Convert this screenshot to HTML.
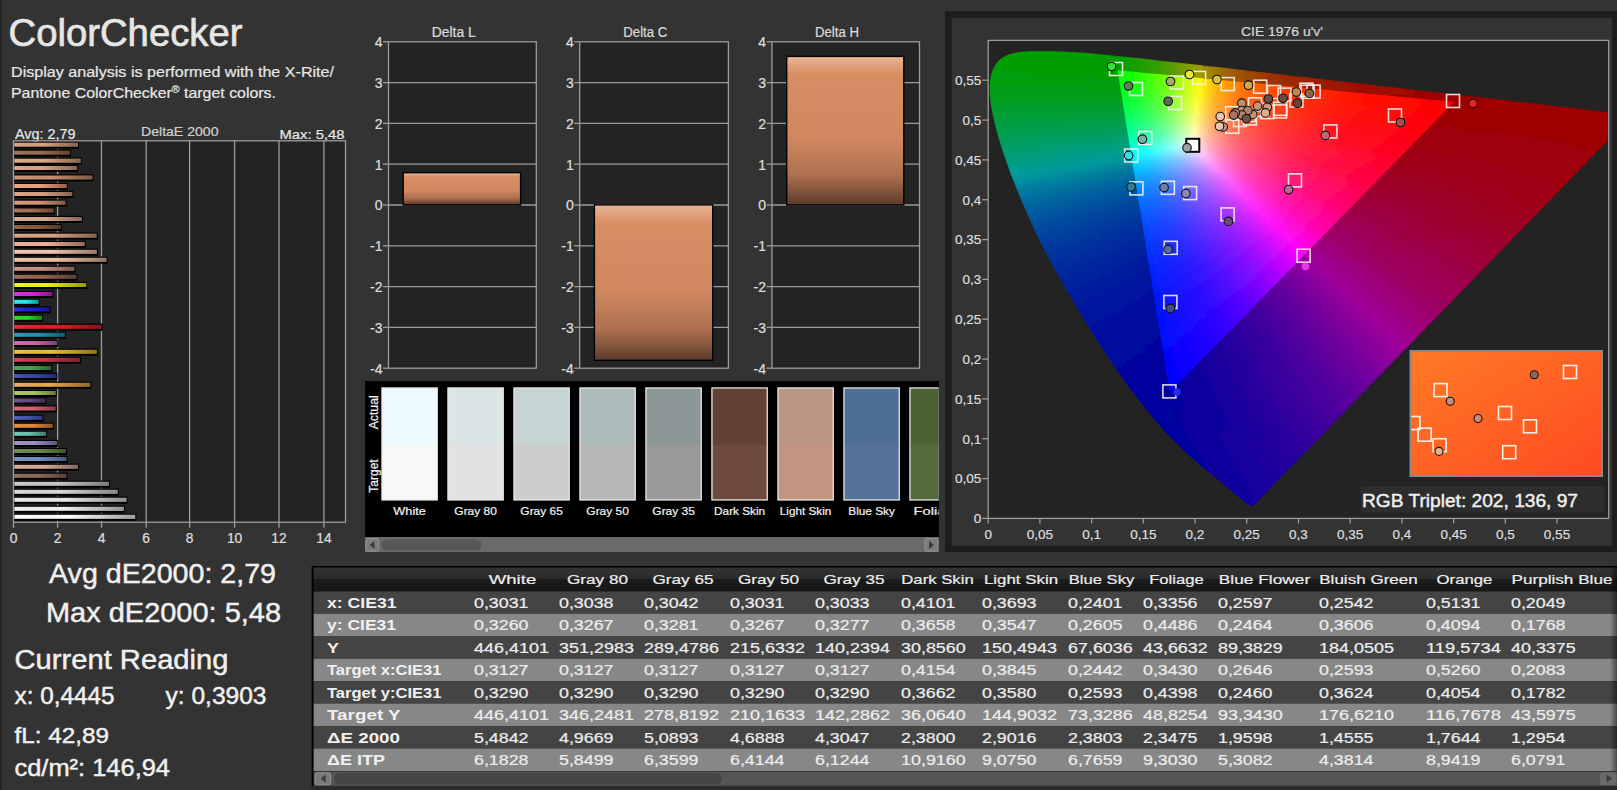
<!DOCTYPE html>
<html><head><meta charset="utf-8"><title>ColorChecker</title>
<style>html,body{margin:0;padding:0;background:#333;overflow:hidden}svg{display:block}text{font-family:"Liberation Sans",sans-serif}</style></head>
<body><svg width="1617" height="790" viewBox="0 0 1617 790">
<rect x="0.0" y="0.0" width="1617.0" height="790.0" fill="#333333"/>
<rect x="0.0" y="0.0" width="1.6" height="790.0" fill="#222222"/>
<text x="8.5" y="45.9" font-size="38.7" textLength="234.0" lengthAdjust="spacingAndGlyphs" fill="#e6e6e6" stroke="#e6e6e6" stroke-width="0.7">ColorChecker</text>
<text x="11.0" y="76.8" font-size="15.1" textLength="323.0" lengthAdjust="spacingAndGlyphs" fill="#e6e6e6" stroke="#e6e6e6" stroke-width="0.22">Display analysis is performed with the X-Rite/</text>
<text x="11.0" y="97.6" font-size="15.1" textLength="265.0" lengthAdjust="spacingAndGlyphs" fill="#e6e6e6" stroke="#e6e6e6" stroke-width="0.22">Pantone ColorChecker<tspan font-size="10" dy="-4.5">®</tspan><tspan dy="4.5"> target colors.</tspan></text>
<rect x="13.5" y="140.8" width="332.0" height="381.4" fill="#232323"/>
<text x="15.0" y="138.7" font-size="14" textLength="60.5" lengthAdjust="spacingAndGlyphs" fill="#e6e6e6" stroke="#e6e6e6" stroke-width="0.22">Avg: 2,79</text>
<text x="141.0" y="135.8" font-size="13.5" textLength="77.5" lengthAdjust="spacingAndGlyphs" fill="#cfcfcf" stroke="#cfcfcf" stroke-width="0.22">DeltaE 2000</text>
<text x="279.5" y="138.5" font-size="13.5" textLength="65.0" lengthAdjust="spacingAndGlyphs" fill="#e6e6e6" stroke="#e6e6e6" stroke-width="0.22">Max: 5,48</text>
<line x1="57.6" y1="140.8" x2="57.6" y2="522.2" stroke="#9c9c9c" stroke-width="1.3"/>
<line x1="101.5" y1="140.8" x2="101.5" y2="522.2" stroke="#9c9c9c" stroke-width="1.3"/>
<line x1="146.2" y1="140.8" x2="146.2" y2="522.2" stroke="#9c9c9c" stroke-width="1.3"/>
<line x1="189.6" y1="140.8" x2="189.6" y2="522.2" stroke="#9c9c9c" stroke-width="1.3"/>
<line x1="234.6" y1="140.8" x2="234.6" y2="522.2" stroke="#9c9c9c" stroke-width="1.3"/>
<line x1="279.0" y1="140.8" x2="279.0" y2="522.2" stroke="#9c9c9c" stroke-width="1.3"/>
<line x1="323.9" y1="140.8" x2="323.9" y2="522.2" stroke="#9c9c9c" stroke-width="1.3"/>
<defs><linearGradient id="bsh" x1="0" x2="1" y1="0" y2="0"><stop offset="0" stop-color="#fff" stop-opacity=".10"/><stop offset=".45" stop-color="#000" stop-opacity="0"/><stop offset="1" stop-color="#000" stop-opacity=".38"/></linearGradient></defs>
<rect x="13.5" y="141.5" width="65.6" height="7.1" fill="#000"/>
<rect x="14.3" y="142.7" width="63.7" height="4.0" fill="#d9a07e"/>
<rect x="14.3" y="142.7" width="63.7" height="4.0" fill="url(#bsh)"/>
<rect x="13.5" y="149.5" width="57.6" height="7.1" fill="#000"/>
<rect x="14.3" y="150.7" width="55.7" height="4.0" fill="#9c6b52"/>
<rect x="14.3" y="150.7" width="55.7" height="4.0" fill="url(#bsh)"/>
<rect x="13.5" y="157.5" width="68.3" height="7.1" fill="#000"/>
<rect x="14.3" y="158.7" width="66.4" height="4.0" fill="#dca787"/>
<rect x="14.3" y="158.7" width="66.4" height="4.0" fill="url(#bsh)"/>
<rect x="13.5" y="164.8" width="64.5" height="7.1" fill="#000"/>
<rect x="14.3" y="166.0" width="62.6" height="4.0" fill="#dba285"/>
<rect x="14.3" y="166.0" width="62.6" height="4.0" fill="url(#bsh)"/>
<rect x="13.5" y="174.3" width="80.0" height="7.1" fill="#000"/>
<rect x="14.3" y="175.5" width="78.1" height="4.0" fill="#c88f6e"/>
<rect x="14.3" y="175.5" width="78.1" height="4.0" fill="url(#bsh)"/>
<rect x="13.5" y="182.8" width="54.3" height="7.1" fill="#000"/>
<rect x="14.3" y="184.0" width="52.4" height="4.0" fill="#f0a07e"/>
<rect x="14.3" y="184.0" width="52.4" height="4.0" fill="url(#bsh)"/>
<rect x="13.5" y="190.8" width="59.8" height="7.1" fill="#000"/>
<rect x="14.3" y="192.0" width="57.9" height="4.0" fill="#d9a080"/>
<rect x="14.3" y="192.0" width="57.9" height="4.0" fill="url(#bsh)"/>
<rect x="13.5" y="199.5" width="53.0" height="7.1" fill="#000"/>
<rect x="14.3" y="200.7" width="51.1" height="4.0" fill="#d69676"/>
<rect x="14.3" y="200.7" width="51.1" height="4.0" fill="url(#bsh)"/>
<rect x="13.5" y="207.3" width="41.2" height="7.1" fill="#000"/>
<rect x="14.3" y="208.5" width="39.3" height="4.0" fill="#a87050"/>
<rect x="14.3" y="208.5" width="39.3" height="4.0" fill="url(#bsh)"/>
<rect x="13.5" y="215.8" width="69.4" height="7.1" fill="#000"/>
<rect x="14.3" y="217.0" width="67.5" height="4.0" fill="#d8a68c"/>
<rect x="14.3" y="217.0" width="67.5" height="4.0" fill="url(#bsh)"/>
<rect x="13.5" y="223.8" width="48.7" height="7.1" fill="#000"/>
<rect x="14.3" y="225.0" width="46.8" height="4.0" fill="#8a5a42"/>
<rect x="14.3" y="225.0" width="46.8" height="4.0" fill="url(#bsh)"/>
<rect x="13.5" y="232.5" width="84.2" height="7.1" fill="#000"/>
<rect x="14.3" y="233.7" width="82.3" height="4.0" fill="#d8a080"/>
<rect x="14.3" y="233.7" width="82.3" height="4.0" fill="url(#bsh)"/>
<rect x="13.5" y="240.8" width="72.2" height="7.1" fill="#000"/>
<rect x="14.3" y="242.0" width="70.3" height="4.0" fill="#eeb090"/>
<rect x="14.3" y="242.0" width="70.3" height="4.0" fill="url(#bsh)"/>
<rect x="13.5" y="248.6" width="84.4" height="7.1" fill="#000"/>
<rect x="14.3" y="249.8" width="82.5" height="4.0" fill="#f4c4aa"/>
<rect x="14.3" y="249.8" width="82.5" height="4.0" fill="url(#bsh)"/>
<rect x="13.5" y="256.6" width="94.0" height="7.1" fill="#000"/>
<rect x="14.3" y="257.8" width="92.1" height="4.0" fill="#f0c0a0"/>
<rect x="14.3" y="257.8" width="92.1" height="4.0" fill="url(#bsh)"/>
<rect x="13.5" y="265.6" width="62.0" height="7.1" fill="#000"/>
<rect x="14.3" y="266.8" width="60.1" height="4.0" fill="#c89080"/>
<rect x="14.3" y="266.8" width="60.1" height="4.0" fill="url(#bsh)"/>
<rect x="13.5" y="273.6" width="64.0" height="7.1" fill="#000"/>
<rect x="14.3" y="274.8" width="62.1" height="4.0" fill="#966450"/>
<rect x="14.3" y="274.8" width="62.1" height="4.0" fill="url(#bsh)"/>
<rect x="13.5" y="281.8" width="73.8" height="7.1" fill="#000"/>
<rect x="14.3" y="283.0" width="71.9" height="4.0" fill="#f0f020"/>
<rect x="14.3" y="283.0" width="71.9" height="4.0" fill="url(#bsh)"/>
<rect x="13.5" y="290.8" width="39.9" height="7.1" fill="#000"/>
<rect x="14.3" y="292.0" width="38.0" height="4.0" fill="#e020e0"/>
<rect x="14.3" y="292.0" width="38.0" height="4.0" fill="url(#bsh)"/>
<rect x="13.5" y="298.6" width="26.1" height="7.1" fill="#000"/>
<rect x="14.3" y="299.8" width="24.2" height="4.0" fill="#20eeee"/>
<rect x="14.3" y="299.8" width="24.2" height="4.0" fill="url(#bsh)"/>
<rect x="13.5" y="306.3" width="37.2" height="7.1" fill="#000"/>
<rect x="14.3" y="307.5" width="35.3" height="4.0" fill="#2020e0"/>
<rect x="14.3" y="307.5" width="35.3" height="4.0" fill="url(#bsh)"/>
<rect x="13.5" y="314.6" width="29.7" height="7.1" fill="#000"/>
<rect x="14.3" y="315.8" width="27.8" height="4.0" fill="#20e020"/>
<rect x="14.3" y="315.8" width="27.8" height="4.0" fill="url(#bsh)"/>
<rect x="13.5" y="323.6" width="89.3" height="7.1" fill="#000"/>
<rect x="14.3" y="324.8" width="87.4" height="4.0" fill="#e02020"/>
<rect x="14.3" y="324.8" width="87.4" height="4.0" fill="url(#bsh)"/>
<rect x="13.5" y="331.6" width="52.5" height="7.1" fill="#000"/>
<rect x="14.3" y="332.8" width="50.6" height="4.0" fill="#2a90b0"/>
<rect x="14.3" y="332.8" width="50.6" height="4.0" fill="url(#bsh)"/>
<rect x="13.5" y="339.8" width="44.8" height="7.1" fill="#000"/>
<rect x="14.3" y="341.0" width="42.9" height="4.0" fill="#c868a8"/>
<rect x="14.3" y="341.0" width="42.9" height="4.0" fill="url(#bsh)"/>
<rect x="13.5" y="348.6" width="84.4" height="7.1" fill="#000"/>
<rect x="14.3" y="349.8" width="82.5" height="4.0" fill="#e8c030"/>
<rect x="14.3" y="349.8" width="82.5" height="4.0" fill="url(#bsh)"/>
<rect x="13.5" y="356.6" width="67.6" height="7.1" fill="#000"/>
<rect x="14.3" y="357.8" width="65.7" height="4.0" fill="#c83848"/>
<rect x="14.3" y="357.8" width="65.7" height="4.0" fill="url(#bsh)"/>
<rect x="13.5" y="364.8" width="38.8" height="7.1" fill="#000"/>
<rect x="14.3" y="366.0" width="36.9" height="4.0" fill="#48a050"/>
<rect x="14.3" y="366.0" width="36.9" height="4.0" fill="url(#bsh)"/>
<rect x="13.5" y="372.8" width="43.9" height="7.1" fill="#000"/>
<rect x="14.3" y="374.0" width="42.0" height="4.0" fill="#3848a8"/>
<rect x="14.3" y="374.0" width="42.0" height="4.0" fill="url(#bsh)"/>
<rect x="13.5" y="381.6" width="77.8" height="7.1" fill="#000"/>
<rect x="14.3" y="382.8" width="75.9" height="4.0" fill="#eaa848"/>
<rect x="14.3" y="382.8" width="75.9" height="4.0" fill="url(#bsh)"/>
<rect x="13.5" y="389.8" width="43.2" height="7.1" fill="#000"/>
<rect x="14.3" y="391.0" width="41.3" height="4.0" fill="#a8c858"/>
<rect x="14.3" y="391.0" width="41.3" height="4.0" fill="url(#bsh)"/>
<rect x="13.5" y="397.3" width="33.0" height="7.1" fill="#000"/>
<rect x="14.3" y="398.5" width="31.1" height="4.0" fill="#6a4a88"/>
<rect x="14.3" y="398.5" width="31.1" height="4.0" fill="url(#bsh)"/>
<rect x="13.5" y="405.3" width="43.2" height="7.1" fill="#000"/>
<rect x="14.3" y="406.5" width="41.3" height="4.0" fill="#d86070"/>
<rect x="14.3" y="406.5" width="41.3" height="4.0" fill="url(#bsh)"/>
<rect x="13.5" y="414.6" width="30.1" height="7.1" fill="#000"/>
<rect x="14.3" y="415.8" width="28.2" height="4.0" fill="#4858b8"/>
<rect x="14.3" y="415.8" width="28.2" height="4.0" fill="url(#bsh)"/>
<rect x="13.5" y="422.6" width="40.3" height="7.1" fill="#000"/>
<rect x="14.3" y="423.8" width="38.4" height="4.0" fill="#e88838"/>
<rect x="14.3" y="423.8" width="38.4" height="4.0" fill="url(#bsh)"/>
<rect x="13.5" y="430.6" width="33.7" height="7.1" fill="#000"/>
<rect x="14.3" y="431.8" width="31.8" height="4.0" fill="#68c8b0"/>
<rect x="14.3" y="431.8" width="31.8" height="4.0" fill="url(#bsh)"/>
<rect x="13.5" y="439.8" width="44.8" height="7.1" fill="#000"/>
<rect x="14.3" y="441.0" width="42.9" height="4.0" fill="#9890c8"/>
<rect x="14.3" y="441.0" width="42.9" height="4.0" fill="url(#bsh)"/>
<rect x="13.5" y="447.8" width="53.4" height="7.1" fill="#000"/>
<rect x="14.3" y="449.0" width="51.5" height="4.0" fill="#6a8a50"/>
<rect x="14.3" y="449.0" width="51.5" height="4.0" fill="url(#bsh)"/>
<rect x="13.5" y="455.8" width="54.1" height="7.1" fill="#000"/>
<rect x="14.3" y="457.0" width="52.2" height="4.0" fill="#7090c0"/>
<rect x="14.3" y="457.0" width="52.2" height="4.0" fill="url(#bsh)"/>
<rect x="13.5" y="463.6" width="65.6" height="7.1" fill="#000"/>
<rect x="14.3" y="464.8" width="63.7" height="4.0" fill="#d8a898"/>
<rect x="14.3" y="464.8" width="63.7" height="4.0" fill="url(#bsh)"/>
<rect x="13.5" y="472.6" width="54.1" height="7.1" fill="#000"/>
<rect x="14.3" y="473.8" width="52.2" height="4.0" fill="#906858"/>
<rect x="14.3" y="473.8" width="52.2" height="4.0" fill="url(#bsh)"/>
<rect x="13.5" y="480.6" width="96.6" height="7.1" fill="#000"/>
<rect x="14.3" y="481.8" width="94.7" height="4.0" fill="#c8c8c8"/>
<rect x="14.3" y="481.8" width="94.7" height="4.0" fill="url(#bsh)"/>
<rect x="13.5" y="488.6" width="105.3" height="7.1" fill="#000"/>
<rect x="14.3" y="489.8" width="103.4" height="4.0" fill="#d8d8d8"/>
<rect x="14.3" y="489.8" width="103.4" height="4.0" fill="url(#bsh)"/>
<rect x="13.5" y="496.6" width="114.1" height="7.1" fill="#000"/>
<rect x="14.3" y="497.8" width="112.2" height="4.0" fill="#e8e8e8"/>
<rect x="14.3" y="497.8" width="112.2" height="4.0" fill="url(#bsh)"/>
<rect x="13.5" y="505.6" width="111.5" height="7.1" fill="#000"/>
<rect x="14.3" y="506.8" width="109.6" height="4.0" fill="#f0f0f0"/>
<rect x="14.3" y="506.8" width="109.6" height="4.0" fill="url(#bsh)"/>
<rect x="13.5" y="513.6" width="122.8" height="7.1" fill="#000"/>
<rect x="14.3" y="514.8" width="120.9" height="4.0" fill="#ffffff"/>
<rect x="14.3" y="514.8" width="120.9" height="4.0" fill="url(#bsh)"/>
<rect x="13.5" y="140.8" width="332.0" height="381.4" fill="none" stroke="#9c9c9c" stroke-width="1.3"/>
<line x1="13.5" y1="522.2" x2="13.5" y2="527.8" stroke="#9c9c9c" stroke-width="1.3"/>
<text x="13.5" y="542.8" font-size="13.8" fill="#dedede" stroke="#dedede" stroke-width="0.22" text-anchor="middle">0</text>
<line x1="57.6" y1="522.2" x2="57.6" y2="527.8" stroke="#9c9c9c" stroke-width="1.3"/>
<text x="57.6" y="542.8" font-size="13.8" fill="#dedede" stroke="#dedede" stroke-width="0.22" text-anchor="middle">2</text>
<line x1="101.5" y1="522.2" x2="101.5" y2="527.8" stroke="#9c9c9c" stroke-width="1.3"/>
<text x="101.5" y="542.8" font-size="13.8" fill="#dedede" stroke="#dedede" stroke-width="0.22" text-anchor="middle">4</text>
<line x1="146.2" y1="522.2" x2="146.2" y2="527.8" stroke="#9c9c9c" stroke-width="1.3"/>
<text x="146.2" y="542.8" font-size="13.8" fill="#dedede" stroke="#dedede" stroke-width="0.22" text-anchor="middle">6</text>
<line x1="189.6" y1="522.2" x2="189.6" y2="527.8" stroke="#9c9c9c" stroke-width="1.3"/>
<text x="189.6" y="542.8" font-size="13.8" fill="#dedede" stroke="#dedede" stroke-width="0.22" text-anchor="middle">8</text>
<line x1="234.6" y1="522.2" x2="234.6" y2="527.8" stroke="#9c9c9c" stroke-width="1.3"/>
<text x="234.6" y="542.8" font-size="13.8" fill="#dedede" stroke="#dedede" stroke-width="0.22" text-anchor="middle">10</text>
<line x1="279.0" y1="522.2" x2="279.0" y2="527.8" stroke="#9c9c9c" stroke-width="1.3"/>
<text x="279.0" y="542.8" font-size="13.8" fill="#dedede" stroke="#dedede" stroke-width="0.22" text-anchor="middle">12</text>
<line x1="323.9" y1="522.2" x2="323.9" y2="527.8" stroke="#9c9c9c" stroke-width="1.3"/>
<text x="323.9" y="542.8" font-size="13.8" fill="#dedede" stroke="#dedede" stroke-width="0.22" text-anchor="middle">14</text>
<defs><linearGradient id="dg" x1="0" x2="0" y1="0" y2="1"><stop offset="0" stop-color="#e8b494"/><stop offset=".12" stop-color="#d98d63"/><stop offset=".55" stop-color="#d08860"/><stop offset=".8" stop-color="#b07050"/><stop offset=".93" stop-color="#7a5038"/><stop offset="1" stop-color="#5e3c2c"/></linearGradient></defs>
<rect x="388.5" y="41.8" width="147.8" height="326.4" fill="#232323"/>
<line x1="388.5" y1="82.6" x2="536.3" y2="82.6" stroke="#9c9c9c" stroke-width="1.3"/>
<line x1="388.5" y1="123.4" x2="536.3" y2="123.4" stroke="#9c9c9c" stroke-width="1.3"/>
<line x1="388.5" y1="164.2" x2="536.3" y2="164.2" stroke="#9c9c9c" stroke-width="1.3"/>
<line x1="388.5" y1="205.0" x2="536.3" y2="205.0" stroke="#9c9c9c" stroke-width="1.3"/>
<line x1="388.5" y1="245.8" x2="536.3" y2="245.8" stroke="#9c9c9c" stroke-width="1.3"/>
<line x1="388.5" y1="286.6" x2="536.3" y2="286.6" stroke="#9c9c9c" stroke-width="1.3"/>
<line x1="388.5" y1="327.4" x2="536.3" y2="327.4" stroke="#9c9c9c" stroke-width="1.3"/>
<rect x="388.5" y="41.8" width="147.8" height="326.4" fill="none" stroke="#9c9c9c" stroke-width="1.3"/>
<line x1="383.0" y1="41.8" x2="388.5" y2="41.8" stroke="#9c9c9c" stroke-width="1.3"/>
<text x="382.5" y="47.1" font-size="14" fill="#dedede" stroke="#dedede" stroke-width="0.22" text-anchor="end">4</text>
<line x1="383.0" y1="82.6" x2="388.5" y2="82.6" stroke="#9c9c9c" stroke-width="1.3"/>
<text x="382.5" y="87.9" font-size="14" fill="#dedede" stroke="#dedede" stroke-width="0.22" text-anchor="end">3</text>
<line x1="383.0" y1="123.4" x2="388.5" y2="123.4" stroke="#9c9c9c" stroke-width="1.3"/>
<text x="382.5" y="128.7" font-size="14" fill="#dedede" stroke="#dedede" stroke-width="0.22" text-anchor="end">2</text>
<line x1="383.0" y1="164.2" x2="388.5" y2="164.2" stroke="#9c9c9c" stroke-width="1.3"/>
<text x="382.5" y="169.5" font-size="14" fill="#dedede" stroke="#dedede" stroke-width="0.22" text-anchor="end">1</text>
<line x1="383.0" y1="205.0" x2="388.5" y2="205.0" stroke="#9c9c9c" stroke-width="1.3"/>
<text x="382.5" y="210.3" font-size="14" fill="#dedede" stroke="#dedede" stroke-width="0.22" text-anchor="end">0</text>
<line x1="383.0" y1="245.8" x2="388.5" y2="245.8" stroke="#9c9c9c" stroke-width="1.3"/>
<text x="382.5" y="251.1" font-size="14" fill="#dedede" stroke="#dedede" stroke-width="0.22" text-anchor="end">-1</text>
<line x1="383.0" y1="286.6" x2="388.5" y2="286.6" stroke="#9c9c9c" stroke-width="1.3"/>
<text x="382.5" y="291.9" font-size="14" fill="#dedede" stroke="#dedede" stroke-width="0.22" text-anchor="end">-2</text>
<line x1="383.0" y1="327.4" x2="388.5" y2="327.4" stroke="#9c9c9c" stroke-width="1.3"/>
<text x="382.5" y="332.7" font-size="14" fill="#dedede" stroke="#dedede" stroke-width="0.22" text-anchor="end">-3</text>
<line x1="383.0" y1="368.2" x2="388.5" y2="368.2" stroke="#9c9c9c" stroke-width="1.3"/>
<text x="382.5" y="373.5" font-size="14" fill="#dedede" stroke="#dedede" stroke-width="0.22" text-anchor="end">-4</text>
<text x="453.7" y="36.8" font-size="13.8" textLength="44.0" lengthAdjust="spacingAndGlyphs" fill="#dadada" stroke="#dadada" stroke-width="0.22" text-anchor="middle">Delta L</text>
<rect x="402.5" y="172.0" width="118.8" height="33.7" fill="#000"/>
<rect x="403.9" y="173.4" width="116.0" height="30.8" fill="url(#dg)"/>
<rect x="579.7" y="41.8" width="148.7" height="326.4" fill="#232323"/>
<line x1="579.7" y1="82.6" x2="728.4" y2="82.6" stroke="#9c9c9c" stroke-width="1.3"/>
<line x1="579.7" y1="123.4" x2="728.4" y2="123.4" stroke="#9c9c9c" stroke-width="1.3"/>
<line x1="579.7" y1="164.2" x2="728.4" y2="164.2" stroke="#9c9c9c" stroke-width="1.3"/>
<line x1="579.7" y1="205.0" x2="728.4" y2="205.0" stroke="#9c9c9c" stroke-width="1.3"/>
<line x1="579.7" y1="245.8" x2="728.4" y2="245.8" stroke="#9c9c9c" stroke-width="1.3"/>
<line x1="579.7" y1="286.6" x2="728.4" y2="286.6" stroke="#9c9c9c" stroke-width="1.3"/>
<line x1="579.7" y1="327.4" x2="728.4" y2="327.4" stroke="#9c9c9c" stroke-width="1.3"/>
<rect x="579.7" y="41.8" width="148.7" height="326.4" fill="none" stroke="#9c9c9c" stroke-width="1.3"/>
<line x1="574.2" y1="41.8" x2="579.7" y2="41.8" stroke="#9c9c9c" stroke-width="1.3"/>
<text x="573.7" y="47.1" font-size="14" fill="#dedede" stroke="#dedede" stroke-width="0.22" text-anchor="end">4</text>
<line x1="574.2" y1="82.6" x2="579.7" y2="82.6" stroke="#9c9c9c" stroke-width="1.3"/>
<text x="573.7" y="87.9" font-size="14" fill="#dedede" stroke="#dedede" stroke-width="0.22" text-anchor="end">3</text>
<line x1="574.2" y1="123.4" x2="579.7" y2="123.4" stroke="#9c9c9c" stroke-width="1.3"/>
<text x="573.7" y="128.7" font-size="14" fill="#dedede" stroke="#dedede" stroke-width="0.22" text-anchor="end">2</text>
<line x1="574.2" y1="164.2" x2="579.7" y2="164.2" stroke="#9c9c9c" stroke-width="1.3"/>
<text x="573.7" y="169.5" font-size="14" fill="#dedede" stroke="#dedede" stroke-width="0.22" text-anchor="end">1</text>
<line x1="574.2" y1="205.0" x2="579.7" y2="205.0" stroke="#9c9c9c" stroke-width="1.3"/>
<text x="573.7" y="210.3" font-size="14" fill="#dedede" stroke="#dedede" stroke-width="0.22" text-anchor="end">0</text>
<line x1="574.2" y1="245.8" x2="579.7" y2="245.8" stroke="#9c9c9c" stroke-width="1.3"/>
<text x="573.7" y="251.1" font-size="14" fill="#dedede" stroke="#dedede" stroke-width="0.22" text-anchor="end">-1</text>
<line x1="574.2" y1="286.6" x2="579.7" y2="286.6" stroke="#9c9c9c" stroke-width="1.3"/>
<text x="573.7" y="291.9" font-size="14" fill="#dedede" stroke="#dedede" stroke-width="0.22" text-anchor="end">-2</text>
<line x1="574.2" y1="327.4" x2="579.7" y2="327.4" stroke="#9c9c9c" stroke-width="1.3"/>
<text x="573.7" y="332.7" font-size="14" fill="#dedede" stroke="#dedede" stroke-width="0.22" text-anchor="end">-3</text>
<line x1="574.2" y1="368.2" x2="579.7" y2="368.2" stroke="#9c9c9c" stroke-width="1.3"/>
<text x="573.7" y="373.5" font-size="14" fill="#dedede" stroke="#dedede" stroke-width="0.22" text-anchor="end">-4</text>
<text x="645.3" y="36.8" font-size="13.8" textLength="44.0" lengthAdjust="spacingAndGlyphs" fill="#dadada" stroke="#dadada" stroke-width="0.22" text-anchor="middle">Delta C</text>
<rect x="593.7" y="204.2" width="119.7" height="156.9" fill="#000"/>
<rect x="595.1" y="205.6" width="116.9" height="154.0" fill="url(#dg)"/>
<rect x="772.0" y="41.8" width="147.5" height="326.4" fill="#232323"/>
<line x1="772.0" y1="82.6" x2="919.5" y2="82.6" stroke="#9c9c9c" stroke-width="1.3"/>
<line x1="772.0" y1="123.4" x2="919.5" y2="123.4" stroke="#9c9c9c" stroke-width="1.3"/>
<line x1="772.0" y1="164.2" x2="919.5" y2="164.2" stroke="#9c9c9c" stroke-width="1.3"/>
<line x1="772.0" y1="205.0" x2="919.5" y2="205.0" stroke="#9c9c9c" stroke-width="1.3"/>
<line x1="772.0" y1="245.8" x2="919.5" y2="245.8" stroke="#9c9c9c" stroke-width="1.3"/>
<line x1="772.0" y1="286.6" x2="919.5" y2="286.6" stroke="#9c9c9c" stroke-width="1.3"/>
<line x1="772.0" y1="327.4" x2="919.5" y2="327.4" stroke="#9c9c9c" stroke-width="1.3"/>
<rect x="772.0" y="41.8" width="147.5" height="326.4" fill="none" stroke="#9c9c9c" stroke-width="1.3"/>
<line x1="766.5" y1="41.8" x2="772.0" y2="41.8" stroke="#9c9c9c" stroke-width="1.3"/>
<text x="766.0" y="47.1" font-size="14" fill="#dedede" stroke="#dedede" stroke-width="0.22" text-anchor="end">4</text>
<line x1="766.5" y1="82.6" x2="772.0" y2="82.6" stroke="#9c9c9c" stroke-width="1.3"/>
<text x="766.0" y="87.9" font-size="14" fill="#dedede" stroke="#dedede" stroke-width="0.22" text-anchor="end">3</text>
<line x1="766.5" y1="123.4" x2="772.0" y2="123.4" stroke="#9c9c9c" stroke-width="1.3"/>
<text x="766.0" y="128.7" font-size="14" fill="#dedede" stroke="#dedede" stroke-width="0.22" text-anchor="end">2</text>
<line x1="766.5" y1="164.2" x2="772.0" y2="164.2" stroke="#9c9c9c" stroke-width="1.3"/>
<text x="766.0" y="169.5" font-size="14" fill="#dedede" stroke="#dedede" stroke-width="0.22" text-anchor="end">1</text>
<line x1="766.5" y1="205.0" x2="772.0" y2="205.0" stroke="#9c9c9c" stroke-width="1.3"/>
<text x="766.0" y="210.3" font-size="14" fill="#dedede" stroke="#dedede" stroke-width="0.22" text-anchor="end">0</text>
<line x1="766.5" y1="245.8" x2="772.0" y2="245.8" stroke="#9c9c9c" stroke-width="1.3"/>
<text x="766.0" y="251.1" font-size="14" fill="#dedede" stroke="#dedede" stroke-width="0.22" text-anchor="end">-1</text>
<line x1="766.5" y1="286.6" x2="772.0" y2="286.6" stroke="#9c9c9c" stroke-width="1.3"/>
<text x="766.0" y="291.9" font-size="14" fill="#dedede" stroke="#dedede" stroke-width="0.22" text-anchor="end">-2</text>
<line x1="766.5" y1="327.4" x2="772.0" y2="327.4" stroke="#9c9c9c" stroke-width="1.3"/>
<text x="766.0" y="332.7" font-size="14" fill="#dedede" stroke="#dedede" stroke-width="0.22" text-anchor="end">-3</text>
<line x1="766.5" y1="368.2" x2="772.0" y2="368.2" stroke="#9c9c9c" stroke-width="1.3"/>
<text x="766.0" y="373.5" font-size="14" fill="#dedede" stroke="#dedede" stroke-width="0.22" text-anchor="end">-4</text>
<text x="837.0" y="36.8" font-size="13.8" textLength="44.0" lengthAdjust="spacingAndGlyphs" fill="#dadada" stroke="#dadada" stroke-width="0.22" text-anchor="middle">Delta H</text>
<rect x="786.0" y="55.7" width="118.5" height="150.0" fill="#000"/>
<rect x="787.4" y="57.1" width="115.7" height="147.1" fill="url(#dg)"/>
<rect x="365.0" y="381.0" width="574.0" height="156.0" fill="#000"/>
<defs><clipPath id="swc"><rect x="365" y="381" width="573.7" height="156"/></clipPath></defs><g clip-path="url(#swc)">
<rect x="381.3" y="387.3" width="56.6" height="113.3" fill="#e8e8e8"/>
<rect x="382.6" y="388.6" width="54.0" height="56.5" fill="#eefbfe"/>
<rect x="382.6" y="444.6" width="54.0" height="54.7" fill="#f8f8f8"/>
<text x="409.6" y="514.9" font-size="11.4" textLength="32.5" lengthAdjust="spacingAndGlyphs" fill="#f0f0f0" stroke="#f0f0f0" stroke-width="0.22" text-anchor="middle">White</text>
<rect x="447.3" y="387.3" width="56.6" height="113.3" fill="#e8e8e8"/>
<rect x="448.6" y="388.6" width="54.0" height="56.5" fill="#dbe5e6"/>
<rect x="448.6" y="444.6" width="54.0" height="54.7" fill="#e2e2e2"/>
<text x="475.6" y="514.9" font-size="11.4" textLength="42.5" lengthAdjust="spacingAndGlyphs" fill="#f0f0f0" stroke="#f0f0f0" stroke-width="0.22" text-anchor="middle">Gray 80</text>
<rect x="513.3" y="387.3" width="56.6" height="113.3" fill="#e8e8e8"/>
<rect x="514.6" y="388.6" width="54.0" height="56.5" fill="#c6d4d4"/>
<rect x="514.6" y="444.6" width="54.0" height="54.7" fill="#cdcdcd"/>
<text x="541.6" y="514.9" font-size="11.4" textLength="42.5" lengthAdjust="spacingAndGlyphs" fill="#f0f0f0" stroke="#f0f0f0" stroke-width="0.22" text-anchor="middle">Gray 65</text>
<rect x="579.3" y="387.3" width="56.6" height="113.3" fill="#e8e8e8"/>
<rect x="580.6" y="388.6" width="54.0" height="56.5" fill="#adbaba"/>
<rect x="580.6" y="444.6" width="54.0" height="54.7" fill="#b6b6b6"/>
<text x="607.6" y="514.9" font-size="11.4" textLength="42.5" lengthAdjust="spacingAndGlyphs" fill="#f0f0f0" stroke="#f0f0f0" stroke-width="0.22" text-anchor="middle">Gray 50</text>
<rect x="645.3" y="387.3" width="56.6" height="113.3" fill="#e8e8e8"/>
<rect x="646.6" y="388.6" width="54.0" height="56.5" fill="#8c9797"/>
<rect x="646.6" y="444.6" width="54.0" height="54.7" fill="#9a9a9a"/>
<text x="673.6" y="514.9" font-size="11.4" textLength="42.5" lengthAdjust="spacingAndGlyphs" fill="#f0f0f0" stroke="#f0f0f0" stroke-width="0.22" text-anchor="middle">Gray 35</text>
<rect x="711.3" y="387.3" width="56.6" height="113.3" fill="#e8e8e8"/>
<rect x="712.6" y="388.6" width="54.0" height="56.5" fill="#634236"/>
<rect x="712.6" y="444.6" width="54.0" height="54.7" fill="#6e4a3c"/>
<text x="739.6" y="514.9" font-size="11.4" textLength="51.0" lengthAdjust="spacingAndGlyphs" fill="#f0f0f0" stroke="#f0f0f0" stroke-width="0.22" text-anchor="middle">Dark Skin</text>
<rect x="777.3" y="387.3" width="56.6" height="113.3" fill="#e8e8e8"/>
<rect x="778.6" y="388.6" width="54.0" height="56.5" fill="#bc9684"/>
<rect x="778.6" y="444.6" width="54.0" height="54.7" fill="#c29482"/>
<text x="805.6" y="514.9" font-size="11.4" textLength="51.5" lengthAdjust="spacingAndGlyphs" fill="#f0f0f0" stroke="#f0f0f0" stroke-width="0.22" text-anchor="middle">Light Skin</text>
<rect x="843.3" y="387.3" width="56.6" height="113.3" fill="#e8e8e8"/>
<rect x="844.6" y="388.6" width="54.0" height="56.5" fill="#4e6e94"/>
<rect x="844.6" y="444.6" width="54.0" height="54.7" fill="#567298"/>
<text x="871.6" y="514.9" font-size="11.4" textLength="46.5" lengthAdjust="spacingAndGlyphs" fill="#f0f0f0" stroke="#f0f0f0" stroke-width="0.22" text-anchor="middle">Blue Sky</text>
<rect x="909.3" y="387.3" width="56.6" height="113.3" fill="#e8e8e8"/>
<rect x="910.6" y="388.6" width="54.0" height="56.5" fill="#4a6234"/>
<rect x="910.6" y="444.6" width="54.0" height="54.7" fill="#556b3e"/>
<text x="937.6" y="514.9" font-size="11.4" textLength="48.0" lengthAdjust="spacingAndGlyphs" fill="#f0f0f0" stroke="#f0f0f0" stroke-width="0.22" text-anchor="middle">Foliage</text>
</g>
<text x="0.0" y="0.0" font-size="12.4" textLength="34.0" lengthAdjust="spacingAndGlyphs" fill="#f0f0f0" stroke="#f0f0f0" stroke-width="0.22" transform="translate(378.2,429.3) rotate(-90)">Actual</text>
<text x="0.0" y="0.0" font-size="12.4" textLength="33.5" lengthAdjust="spacingAndGlyphs" fill="#f0f0f0" stroke="#f0f0f0" stroke-width="0.22" transform="translate(378.2,492.8) rotate(-90)">Target</text>
<rect x="365.0" y="537.0" width="574.0" height="15.0" fill="#6a6a6a"/>
<rect x="365.8" y="538.6" width="13" height="12.6" rx="2" fill="#7c7c7c" stroke="#9a9a9a" stroke-width=".8"/>
<path d="M369.5 545 L374.5 541 L374.5 549 Z" fill="#3c3c3c"/>
<rect x="381.5" y="539.5" width="100" height="11" rx="5.5" fill="#575757"/>
<rect x="924.8" y="538.6" width="13" height="12.6" rx="2" fill="#7c7c7c" stroke="#9a9a9a" stroke-width=".8"/>
<path d="M934 545 L929 541 L929 549 Z" fill="#3c3c3c"/>
<rect x="945.0" y="11.0" width="672.0" height="541.0" fill="#1d1d1d"/>
<rect x="951.7" y="17.9" width="660.3" height="528.0" fill="#333333"/>
<text x="1241.0" y="35.8" font-size="13.5" textLength="82.0" lengthAdjust="spacingAndGlyphs" fill="#d8d8d8" stroke="#d8d8d8" stroke-width="0.22">CIE 1976 u'v'</text>
<rect x="988.2" y="40.4" width="620.5" height="478.0" fill="#232323"/>
<defs><linearGradient id="o0" gradientUnits="userSpaceOnUse" x1="1008.2" x2="1108.2" y1="0" y2="0"><stop offset="0.000" stop-color="#009e00"/><stop offset="1.000" stop-color="#009e00"/></linearGradient><linearGradient id="o1" gradientUnits="userSpaceOnUse" x1="998.2" x2="1156.2" y1="0" y2="0"><stop offset="0.000" stop-color="#009e00"/><stop offset="0.785" stop-color="#059e00"/><stop offset="1.000" stop-color="#349e00"/></linearGradient><linearGradient id="o2" gradientUnits="userSpaceOnUse" x1="994.2" x2="1200.2" y1="0" y2="0"><stop offset="0.000" stop-color="#009e02"/><stop offset="0.621" stop-color="#049e00"/><stop offset="0.816" stop-color="#3f9e00"/><stop offset="1.000" stop-color="#9d9e00"/></linearGradient><linearGradient id="o3" gradientUnits="userSpaceOnUse" x1="992.2" x2="1244.2" y1="0" y2="0"><stop offset="0.000" stop-color="#009e05"/><stop offset="0.516" stop-color="#049e00"/><stop offset="0.667" stop-color="#3b9e00"/><stop offset="0.817" stop-color="#989e00"/><stop offset="0.873" stop-color="#9e7e00"/><stop offset="1.000" stop-color="#9e4b00"/></linearGradient><linearGradient id="o4" gradientUnits="userSpaceOnUse" x1="990.2" x2="1288.2" y1="0" y2="0"><stop offset="0.000" stop-color="#009e08"/><stop offset="0.450" stop-color="#059e01"/><stop offset="0.577" stop-color="#3f9e00"/><stop offset="0.705" stop-color="#9e9c00"/><stop offset="0.792" stop-color="#9e6200"/><stop offset="0.940" stop-color="#9e3300"/><stop offset="1.000" stop-color="#9e2800"/></linearGradient><linearGradient id="o5" gradientUnits="userSpaceOnUse" x1="990.2" x2="1330.2" y1="0" y2="0"><stop offset="0.000" stop-color="#009e0c"/><stop offset="0.382" stop-color="#019e05"/><stop offset="0.535" stop-color="#559e01"/><stop offset="0.618" stop-color="#9e9b00"/><stop offset="0.694" stop-color="#9e6100"/><stop offset="0.824" stop-color="#9e3200"/><stop offset="1.000" stop-color="#9e1500"/></linearGradient><linearGradient id="o6" gradientUnits="userSpaceOnUse" x1="988.2" x2="1374.2" y1="0" y2="0"><stop offset="0.000" stop-color="#009e10"/><stop offset="0.342" stop-color="#009e0a"/><stop offset="0.606" stop-color="#9e6601"/><stop offset="0.715" stop-color="#9e3500"/><stop offset="0.922" stop-color="#9e1100"/><stop offset="1.000" stop-color="#9e0a00"/></linearGradient><linearGradient id="o7" gradientUnits="userSpaceOnUse" x1="988.2" x2="1418.2" y1="0" y2="0"><stop offset="0.000" stop-color="#009e15"/><stop offset="0.312" stop-color="#019e10"/><stop offset="0.674" stop-color="#9e2a01"/><stop offset="0.898" stop-color="#9e0a00"/><stop offset="1.000" stop-color="#9e0400"/></linearGradient><linearGradient id="o8" gradientUnits="userSpaceOnUse" x1="988.2" x2="1460.2" y1="0" y2="0"><stop offset="0.000" stop-color="#009e1a"/><stop offset="0.284" stop-color="#019e16"/><stop offset="0.729" stop-color="#9e1200"/><stop offset="1.000" stop-color="#9e0000"/></linearGradient><linearGradient id="o9" gradientUnits="userSpaceOnUse" x1="990.2" x2="1504.2" y1="0" y2="0"><stop offset="0.000" stop-color="#009e1f"/><stop offset="0.261" stop-color="#019e1d"/><stop offset="0.774" stop-color="#9e0600"/><stop offset="1.000" stop-color="#9e0000"/></linearGradient><linearGradient id="o10" gradientUnits="userSpaceOnUse" x1="990.2" x2="1548.2" y1="0" y2="0"><stop offset="0.000" stop-color="#009e24"/><stop offset="0.240" stop-color="#019e24"/><stop offset="0.814" stop-color="#9e0000"/><stop offset="1.000" stop-color="#9e0000"/></linearGradient><linearGradient id="o11" gradientUnits="userSpaceOnUse" x1="990.2" x2="1592.2" y1="0" y2="0"><stop offset="0.000" stop-color="#009e2a"/><stop offset="0.223" stop-color="#009e2d"/><stop offset="0.774" stop-color="#9e0001"/><stop offset="1.000" stop-color="#9e0000"/></linearGradient><linearGradient id="o12" gradientUnits="userSpaceOnUse" x1="988.2" x2="1608.2" y1="0" y2="0"><stop offset="0.000" stop-color="#009e30"/><stop offset="0.223" stop-color="#019e35"/><stop offset="0.745" stop-color="#9e0002"/><stop offset="1.000" stop-color="#9e0000"/></linearGradient><linearGradient id="o13" gradientUnits="userSpaceOnUse" x1="988.2" x2="1608.2" y1="0" y2="0"><stop offset="0.000" stop-color="#009e36"/><stop offset="0.223" stop-color="#019e3f"/><stop offset="0.739" stop-color="#9e0004"/><stop offset="1.000" stop-color="#9e0000"/></linearGradient><linearGradient id="o14" gradientUnits="userSpaceOnUse" x1="988.2" x2="1608.2" y1="0" y2="0"><stop offset="0.000" stop-color="#009e3d"/><stop offset="0.226" stop-color="#029e49"/><stop offset="0.726" stop-color="#9e0005"/><stop offset="1.000" stop-color="#9e0001"/></linearGradient><linearGradient id="o15" gradientUnits="userSpaceOnUse" x1="988.2" x2="1608.2" y1="0" y2="0"><stop offset="0.000" stop-color="#009e44"/><stop offset="0.226" stop-color="#019e54"/><stop offset="0.719" stop-color="#9e0007"/><stop offset="1.000" stop-color="#9e0001"/></linearGradient><linearGradient id="o16" gradientUnits="userSpaceOnUse" x1="988.2" x2="1608.2" y1="0" y2="0"><stop offset="0.000" stop-color="#009e4b"/><stop offset="0.226" stop-color="#009e5f"/><stop offset="0.710" stop-color="#9e0009"/><stop offset="1.000" stop-color="#9e0002"/></linearGradient><linearGradient id="o17" gradientUnits="userSpaceOnUse" x1="988.2" x2="1608.2" y1="0" y2="0"><stop offset="0.000" stop-color="#009e52"/><stop offset="0.229" stop-color="#019e6c"/><stop offset="0.703" stop-color="#9e000b"/><stop offset="1.000" stop-color="#9e0003"/></linearGradient><linearGradient id="o18" gradientUnits="userSpaceOnUse" x1="988.2" x2="1608.2" y1="0" y2="0"><stop offset="0.000" stop-color="#009e5a"/><stop offset="0.229" stop-color="#019e79"/><stop offset="0.694" stop-color="#9e000e"/><stop offset="1.000" stop-color="#9e0004"/></linearGradient><linearGradient id="o19" gradientUnits="userSpaceOnUse" x1="1000.2" x2="1604.2" y1="0" y2="0"><stop offset="0.000" stop-color="#009e64"/><stop offset="0.219" stop-color="#029e87"/><stop offset="0.685" stop-color="#9e0010"/><stop offset="1.000" stop-color="#9e0005"/></linearGradient><linearGradient id="o20" gradientUnits="userSpaceOnUse" x1="1002.2" x2="1600.2" y1="0" y2="0"><stop offset="0.000" stop-color="#009e6d"/><stop offset="0.217" stop-color="#019e95"/><stop offset="0.682" stop-color="#9e0013"/><stop offset="1.000" stop-color="#9e0006"/></linearGradient><linearGradient id="o21" gradientUnits="userSpaceOnUse" x1="1004.2" x2="1594.2" y1="0" y2="0"><stop offset="0.000" stop-color="#009e77"/><stop offset="0.214" stop-color="#00999e"/><stop offset="0.678" stop-color="#9e0016"/><stop offset="1.000" stop-color="#9e0007"/></linearGradient><linearGradient id="o22" gradientUnits="userSpaceOnUse" x1="1006.2" x2="1590.2" y1="0" y2="0"><stop offset="0.000" stop-color="#009e81"/><stop offset="0.161" stop-color="#00999e"/><stop offset="0.219" stop-color="#01899e"/><stop offset="0.675" stop-color="#9e0019"/><stop offset="1.000" stop-color="#9e0009"/></linearGradient><linearGradient id="o23" gradientUnits="userSpaceOnUse" x1="1006.2" x2="1586.2" y1="0" y2="0"><stop offset="0.000" stop-color="#009e8b"/><stop offset="0.117" stop-color="#00989e"/><stop offset="0.221" stop-color="#017d9e"/><stop offset="0.669" stop-color="#9e001d"/><stop offset="1.000" stop-color="#9e000a"/></linearGradient><linearGradient id="o24" gradientUnits="userSpaceOnUse" x1="1008.2" x2="1580.2" y1="0" y2="0"><stop offset="0.000" stop-color="#009e96"/><stop offset="0.094" stop-color="#00919e"/><stop offset="0.224" stop-color="#01729e"/><stop offset="0.668" stop-color="#9e0020"/><stop offset="1.000" stop-color="#9e000b"/></linearGradient><linearGradient id="o25" gradientUnits="userSpaceOnUse" x1="1010.2" x2="1576.2" y1="0" y2="0"><stop offset="0.000" stop-color="#009a9e"/><stop offset="0.223" stop-color="#01699e"/><stop offset="0.657" stop-color="#9e0025"/><stop offset="1.000" stop-color="#9e000d"/></linearGradient><linearGradient id="o26" gradientUnits="userSpaceOnUse" x1="1012.2" x2="1570.2" y1="0" y2="0"><stop offset="0.000" stop-color="#008f9e"/><stop offset="0.222" stop-color="#00609e"/><stop offset="0.656" stop-color="#9e0029"/><stop offset="1.000" stop-color="#9e000f"/></linearGradient><linearGradient id="o27" gradientUnits="userSpaceOnUse" x1="1014.2" x2="1566.2" y1="0" y2="0"><stop offset="0.000" stop-color="#00859e"/><stop offset="0.225" stop-color="#01589e"/><stop offset="0.649" stop-color="#9e002d"/><stop offset="0.996" stop-color="#9e0010"/><stop offset="1.000" stop-color="#9e0010"/></linearGradient><linearGradient id="o28" gradientUnits="userSpaceOnUse" x1="1016.2" x2="1560.2" y1="0" y2="0"><stop offset="0.000" stop-color="#007c9e"/><stop offset="0.224" stop-color="#00519e"/><stop offset="0.647" stop-color="#9e0032"/><stop offset="0.971" stop-color="#9e0014"/><stop offset="1.000" stop-color="#9e0012"/></linearGradient><linearGradient id="o29" gradientUnits="userSpaceOnUse" x1="1018.2" x2="1556.2" y1="0" y2="0"><stop offset="0.000" stop-color="#00749e"/><stop offset="0.227" stop-color="#014a9e"/><stop offset="0.639" stop-color="#9e0037"/><stop offset="0.937" stop-color="#9e0017"/><stop offset="1.000" stop-color="#9e0014"/></linearGradient><linearGradient id="o30" gradientUnits="userSpaceOnUse" x1="1020.2" x2="1552.2" y1="0" y2="0"><stop offset="0.000" stop-color="#006c9e"/><stop offset="0.226" stop-color="#01459e"/><stop offset="0.635" stop-color="#9e003d"/><stop offset="0.910" stop-color="#9e001b"/><stop offset="1.000" stop-color="#9e0016"/></linearGradient><linearGradient id="o31" gradientUnits="userSpaceOnUse" x1="1022.2" x2="1546.2" y1="0" y2="0"><stop offset="0.000" stop-color="#00659e"/><stop offset="0.225" stop-color="#00409e"/><stop offset="0.634" stop-color="#9e0042"/><stop offset="0.893" stop-color="#9e001f"/><stop offset="1.000" stop-color="#9e0018"/></linearGradient><linearGradient id="o32" gradientUnits="userSpaceOnUse" x1="1024.2" x2="1542.2" y1="0" y2="0"><stop offset="0.000" stop-color="#005e9e"/><stop offset="0.228" stop-color="#013b9e"/><stop offset="0.625" stop-color="#9e0049"/><stop offset="0.865" stop-color="#9e0024"/><stop offset="1.000" stop-color="#9e001a"/></linearGradient><linearGradient id="o33" gradientUnits="userSpaceOnUse" x1="1028.2" x2="1536.2" y1="0" y2="0"><stop offset="0.000" stop-color="#00589e"/><stop offset="0.224" stop-color="#00369e"/><stop offset="0.622" stop-color="#9e0050"/><stop offset="0.846" stop-color="#9e0029"/><stop offset="1.000" stop-color="#9e001d"/></linearGradient><linearGradient id="o34" gradientUnits="userSpaceOnUse" x1="1030.2" x2="1532.2" y1="0" y2="0"><stop offset="0.000" stop-color="#00529e"/><stop offset="0.227" stop-color="#01329e"/><stop offset="0.614" stop-color="#9e0058"/><stop offset="0.821" stop-color="#9e002f"/><stop offset="1.000" stop-color="#9e001f"/></linearGradient><linearGradient id="o35" gradientUnits="userSpaceOnUse" x1="1032.2" x2="1526.2" y1="0" y2="0"><stop offset="0.000" stop-color="#004d9e"/><stop offset="0.227" stop-color="#002e9e"/><stop offset="0.611" stop-color="#9e005f"/><stop offset="0.806" stop-color="#9e0034"/><stop offset="1.000" stop-color="#9e0021"/></linearGradient><linearGradient id="o36" gradientUnits="userSpaceOnUse" x1="1034.2" x2="1522.2" y1="0" y2="0"><stop offset="0.000" stop-color="#00489e"/><stop offset="0.225" stop-color="#002b9e"/><stop offset="0.598" stop-color="#9e006a"/><stop offset="0.775" stop-color="#9e003d"/><stop offset="1.000" stop-color="#9e0024"/></linearGradient><linearGradient id="o37" gradientUnits="userSpaceOnUse" x1="1036.2" x2="1518.2" y1="0" y2="0"><stop offset="0.000" stop-color="#00449e"/><stop offset="0.228" stop-color="#01289e"/><stop offset="0.593" stop-color="#9e0073"/><stop offset="0.759" stop-color="#9e0044"/><stop offset="1.000" stop-color="#9e0026"/></linearGradient><linearGradient id="o38" gradientUnits="userSpaceOnUse" x1="1038.2" x2="1512.2" y1="0" y2="0"><stop offset="0.000" stop-color="#003f9e"/><stop offset="0.228" stop-color="#00259e"/><stop offset="0.586" stop-color="#9e007e"/><stop offset="0.738" stop-color="#9e004d"/><stop offset="1.000" stop-color="#9e0029"/></linearGradient><linearGradient id="o39" gradientUnits="userSpaceOnUse" x1="1040.2" x2="1508.2" y1="0" y2="0"><stop offset="0.000" stop-color="#003b9e"/><stop offset="0.231" stop-color="#01229e"/><stop offset="0.581" stop-color="#9e0089"/><stop offset="0.722" stop-color="#9e0056"/><stop offset="0.987" stop-color="#9e002d"/><stop offset="1.000" stop-color="#9e002c"/></linearGradient><linearGradient id="o40" gradientUnits="userSpaceOnUse" x1="1044.2" x2="1502.2" y1="0" y2="0"><stop offset="0.000" stop-color="#00379e"/><stop offset="0.227" stop-color="#001f9e"/><stop offset="0.576" stop-color="#9e0094"/><stop offset="0.712" stop-color="#9e005e"/><stop offset="0.956" stop-color="#9e0034"/><stop offset="1.000" stop-color="#9e0030"/></linearGradient><linearGradient id="o41" gradientUnits="userSpaceOnUse" x1="1046.2" x2="1498.2" y1="0" y2="0"><stop offset="0.000" stop-color="#00349e"/><stop offset="0.226" stop-color="#001d9e"/><stop offset="0.580" stop-color="#9e009a"/><stop offset="0.712" stop-color="#9e0064"/><stop offset="0.951" stop-color="#9e0038"/><stop offset="1.000" stop-color="#9e0033"/></linearGradient><linearGradient id="o42" gradientUnits="userSpaceOnUse" x1="1050.2" x2="1492.2" y1="0" y2="0"><stop offset="0.000" stop-color="#00309e"/><stop offset="0.226" stop-color="#001b9e"/><stop offset="0.584" stop-color="#9b009e"/><stop offset="0.742" stop-color="#9e0062"/><stop offset="1.000" stop-color="#9e0036"/></linearGradient><linearGradient id="o43" gradientUnits="userSpaceOnUse" x1="1052.2" x2="1488.2" y1="0" y2="0"><stop offset="0.000" stop-color="#002d9e"/><stop offset="0.225" stop-color="#00199e"/><stop offset="0.578" stop-color="#90009e"/><stop offset="0.619" stop-color="#9e0096"/><stop offset="0.771" stop-color="#9e0060"/><stop offset="1.000" stop-color="#9e003a"/></linearGradient><linearGradient id="o44" gradientUnits="userSpaceOnUse" x1="1054.2" x2="1484.2" y1="0" y2="0"><stop offset="0.000" stop-color="#002a9e"/><stop offset="0.228" stop-color="#01179e"/><stop offset="0.577" stop-color="#88009e"/><stop offset="0.628" stop-color="#9e009a"/><stop offset="0.777" stop-color="#9e0064"/><stop offset="1.000" stop-color="#9e003d"/></linearGradient><linearGradient id="o45" gradientUnits="userSpaceOnUse" x1="1058.2" x2="1478.2" y1="0" y2="0"><stop offset="0.000" stop-color="#00279e"/><stop offset="0.224" stop-color="#00159e"/><stop offset="0.567" stop-color="#7b009e"/><stop offset="0.648" stop-color="#9e0099"/><stop offset="0.805" stop-color="#9e0063"/><stop offset="1.000" stop-color="#9e0041"/></linearGradient><linearGradient id="o46" gradientUnits="userSpaceOnUse" x1="1060.2" x2="1474.2" y1="0" y2="0"><stop offset="0.000" stop-color="#00259e"/><stop offset="0.227" stop-color="#01139e"/><stop offset="0.565" stop-color="#74009e"/><stop offset="0.662" stop-color="#9e009a"/><stop offset="0.826" stop-color="#9e0063"/><stop offset="1.000" stop-color="#9e0045"/></linearGradient><linearGradient id="o47" gradientUnits="userSpaceOnUse" x1="1062.2" x2="1468.2" y1="0" y2="0"><stop offset="0.000" stop-color="#00229e"/><stop offset="0.227" stop-color="#00119e"/><stop offset="0.562" stop-color="#6c009e"/><stop offset="0.685" stop-color="#9e0099"/><stop offset="0.857" stop-color="#9e0063"/><stop offset="1.000" stop-color="#9e004a"/></linearGradient><linearGradient id="o48" gradientUnits="userSpaceOnUse" x1="1066.2" x2="1464.2" y1="0" y2="0"><stop offset="0.000" stop-color="#00209e"/><stop offset="0.221" stop-color="#00109e"/><stop offset="0.558" stop-color="#66009e"/><stop offset="0.698" stop-color="#9e009a"/><stop offset="0.874" stop-color="#9e0064"/><stop offset="1.000" stop-color="#9e004e"/></linearGradient><linearGradient id="o49" gradientUnits="userSpaceOnUse" x1="1068.2" x2="1458.2" y1="0" y2="0"><stop offset="0.000" stop-color="#001d9e"/><stop offset="0.226" stop-color="#000f9e"/><stop offset="0.559" stop-color="#60009e"/><stop offset="0.723" stop-color="#9e0099"/><stop offset="0.913" stop-color="#9e0062"/><stop offset="1.000" stop-color="#9e0053"/></linearGradient><linearGradient id="o50" gradientUnits="userSpaceOnUse" x1="1072.2" x2="1454.2" y1="0" y2="0"><stop offset="0.000" stop-color="#001b9e"/><stop offset="0.220" stop-color="#000d9e"/><stop offset="0.545" stop-color="#57009e"/><stop offset="0.738" stop-color="#9e009a"/><stop offset="0.932" stop-color="#9e0064"/><stop offset="1.000" stop-color="#9e0058"/></linearGradient><linearGradient id="o51" gradientUnits="userSpaceOnUse" x1="1074.2" x2="1450.2" y1="0" y2="0"><stop offset="0.000" stop-color="#00199e"/><stop offset="0.223" stop-color="#010c9e"/><stop offset="0.548" stop-color="#54009e"/><stop offset="0.761" stop-color="#9e0099"/><stop offset="0.963" stop-color="#9e0063"/><stop offset="1.000" stop-color="#9e005c"/></linearGradient><linearGradient id="o52" gradientUnits="userSpaceOnUse" x1="1078.2" x2="1444.2" y1="0" y2="0"><stop offset="0.000" stop-color="#00179e"/><stop offset="0.219" stop-color="#000b9e"/><stop offset="0.541" stop-color="#4e009e"/><stop offset="0.781" stop-color="#9e009a"/><stop offset="0.995" stop-color="#9e0063"/><stop offset="1.000" stop-color="#9e0062"/></linearGradient><linearGradient id="o53" gradientUnits="userSpaceOnUse" x1="1080.2" x2="1440.2" y1="0" y2="0"><stop offset="0.000" stop-color="#00159e"/><stop offset="0.217" stop-color="#000a9e"/><stop offset="0.539" stop-color="#49009e"/><stop offset="0.806" stop-color="#9e009a"/><stop offset="1.000" stop-color="#9e0068"/></linearGradient><linearGradient id="o54" gradientUnits="userSpaceOnUse" x1="1084.2" x2="1434.2" y1="0" y2="0"><stop offset="0.000" stop-color="#00139e"/><stop offset="0.217" stop-color="#00099e"/><stop offset="0.537" stop-color="#45009e"/><stop offset="0.829" stop-color="#9e009b"/><stop offset="1.000" stop-color="#9e006e"/></linearGradient><linearGradient id="o55" gradientUnits="userSpaceOnUse" x1="1086.2" x2="1430.2" y1="0" y2="0"><stop offset="0.000" stop-color="#00129e"/><stop offset="0.215" stop-color="#00089e"/><stop offset="0.535" stop-color="#41009e"/><stop offset="0.855" stop-color="#9e009a"/><stop offset="1.000" stop-color="#9e0074"/></linearGradient><linearGradient id="o56" gradientUnits="userSpaceOnUse" x1="1090.2" x2="1424.2" y1="0" y2="0"><stop offset="0.000" stop-color="#00109e"/><stop offset="0.216" stop-color="#00079e"/><stop offset="0.539" stop-color="#3f009e"/><stop offset="0.886" stop-color="#9e0099"/><stop offset="1.000" stop-color="#9e007c"/></linearGradient><linearGradient id="o57" gradientUnits="userSpaceOnUse" x1="1092.2" x2="1420.2" y1="0" y2="0"><stop offset="0.000" stop-color="#000f9e"/><stop offset="0.213" stop-color="#00069e"/><stop offset="0.537" stop-color="#3b009e"/><stop offset="0.909" stop-color="#9e009a"/><stop offset="1.000" stop-color="#9e0082"/></linearGradient><linearGradient id="o58" gradientUnits="userSpaceOnUse" x1="1096.2" x2="1416.2" y1="0" y2="0"><stop offset="0.000" stop-color="#000d9e"/><stop offset="0.206" stop-color="#00059e"/><stop offset="0.537" stop-color="#39009e"/><stop offset="0.938" stop-color="#9e0099"/><stop offset="1.000" stop-color="#9e0089"/></linearGradient><linearGradient id="o59" gradientUnits="userSpaceOnUse" x1="1100.2" x2="1410.2" y1="0" y2="0"><stop offset="0.000" stop-color="#000c9e"/><stop offset="0.206" stop-color="#00049e"/><stop offset="0.555" stop-color="#3a009e"/><stop offset="0.968" stop-color="#9e009a"/><stop offset="1.000" stop-color="#9e0092"/></linearGradient><linearGradient id="o60" gradientUnits="userSpaceOnUse" x1="1102.2" x2="1406.2" y1="0" y2="0"><stop offset="0.000" stop-color="#000b9e"/><stop offset="0.204" stop-color="#00049e"/><stop offset="0.559" stop-color="#38009e"/><stop offset="1.000" stop-color="#9e0099"/></linearGradient><linearGradient id="o61" gradientUnits="userSpaceOnUse" x1="1106.2" x2="1400.2" y1="0" y2="0"><stop offset="0.000" stop-color="#00099e"/><stop offset="0.204" stop-color="#00039e"/><stop offset="0.585" stop-color="#3b009e"/><stop offset="1.000" stop-color="#99009e"/></linearGradient><linearGradient id="o62" gradientUnits="userSpaceOnUse" x1="1108.2" x2="1396.2" y1="0" y2="0"><stop offset="0.000" stop-color="#00089e"/><stop offset="0.201" stop-color="#00029e"/><stop offset="0.590" stop-color="#39009e"/><stop offset="1.000" stop-color="#91009e"/></linearGradient><linearGradient id="o63" gradientUnits="userSpaceOnUse" x1="1112.2" x2="1390.2" y1="0" y2="0"><stop offset="0.000" stop-color="#00079e"/><stop offset="0.194" stop-color="#00029e"/><stop offset="0.604" stop-color="#38009e"/><stop offset="1.000" stop-color="#89009e"/></linearGradient><linearGradient id="o64" gradientUnits="userSpaceOnUse" x1="1116.2" x2="1386.2" y1="0" y2="0"><stop offset="0.000" stop-color="#00069e"/><stop offset="0.267" stop-color="#07009e"/><stop offset="0.770" stop-color="#54009e"/><stop offset="1.000" stop-color="#82009e"/></linearGradient><linearGradient id="o65" gradientUnits="userSpaceOnUse" x1="1120.2" x2="1382.2" y1="0" y2="0"><stop offset="0.000" stop-color="#00059e"/><stop offset="0.267" stop-color="#07009e"/><stop offset="0.794" stop-color="#54009e"/><stop offset="1.000" stop-color="#7b009e"/></linearGradient><linearGradient id="o66" gradientUnits="userSpaceOnUse" x1="1124.2" x2="1376.2" y1="0" y2="0"><stop offset="0.000" stop-color="#00049e"/><stop offset="0.270" stop-color="#07009e"/><stop offset="0.833" stop-color="#56009e"/><stop offset="1.000" stop-color="#73009e"/></linearGradient><linearGradient id="o67" gradientUnits="userSpaceOnUse" x1="1126.2" x2="1372.2" y1="0" y2="0"><stop offset="0.000" stop-color="#00049e"/><stop offset="0.276" stop-color="#08009e"/><stop offset="0.862" stop-color="#56009e"/><stop offset="1.000" stop-color="#6e009e"/></linearGradient><linearGradient id="o68" gradientUnits="userSpaceOnUse" x1="1130.2" x2="1366.2" y1="0" y2="0"><stop offset="0.000" stop-color="#00039e"/><stop offset="0.280" stop-color="#08009e"/><stop offset="0.898" stop-color="#56009e"/><stop offset="1.000" stop-color="#67009e"/></linearGradient><linearGradient id="o69" gradientUnits="userSpaceOnUse" x1="1134.2" x2="1362.2" y1="0" y2="0"><stop offset="0.000" stop-color="#00029e"/><stop offset="0.289" stop-color="#09009e"/><stop offset="0.947" stop-color="#59009e"/><stop offset="1.000" stop-color="#61009e"/></linearGradient><linearGradient id="o70" gradientUnits="userSpaceOnUse" x1="1138.2" x2="1356.2" y1="0" y2="0"><stop offset="0.000" stop-color="#00019e"/><stop offset="0.294" stop-color="#09009e"/><stop offset="0.991" stop-color="#5a009e"/><stop offset="1.000" stop-color="#5b009e"/></linearGradient><linearGradient id="o71" gradientUnits="userSpaceOnUse" x1="1142.2" x2="1352.2" y1="0" y2="0"><stop offset="0.000" stop-color="#00019e"/><stop offset="0.305" stop-color="#0a009e"/><stop offset="1.000" stop-color="#56009e"/></linearGradient><linearGradient id="o72" gradientUnits="userSpaceOnUse" x1="1146.2" x2="1348.2" y1="0" y2="0"><stop offset="0.000" stop-color="#00009e"/><stop offset="0.327" stop-color="#0c009e"/><stop offset="1.000" stop-color="#51009e"/></linearGradient><linearGradient id="o73" gradientUnits="userSpaceOnUse" x1="1150.2" x2="1342.2" y1="0" y2="0"><stop offset="0.000" stop-color="#00009e"/><stop offset="0.354" stop-color="#0e009e"/><stop offset="1.000" stop-color="#4c009e"/></linearGradient><linearGradient id="o74" gradientUnits="userSpaceOnUse" x1="1154.2" x2="1338.2" y1="0" y2="0"><stop offset="0.000" stop-color="#00009e"/><stop offset="0.402" stop-color="#11009e"/><stop offset="1.000" stop-color="#48009e"/></linearGradient><linearGradient id="o75" gradientUnits="userSpaceOnUse" x1="1158.2" x2="1332.2" y1="0" y2="0"><stop offset="0.000" stop-color="#00009e"/><stop offset="0.460" stop-color="#15009e"/><stop offset="1.000" stop-color="#43009e"/></linearGradient><linearGradient id="o76" gradientUnits="userSpaceOnUse" x1="1162.2" x2="1328.2" y1="0" y2="0"><stop offset="0.000" stop-color="#00009e"/><stop offset="0.542" stop-color="#1a009e"/><stop offset="1.000" stop-color="#3f009e"/></linearGradient><linearGradient id="o77" gradientUnits="userSpaceOnUse" x1="1168.2" x2="1322.2" y1="0" y2="0"><stop offset="0.000" stop-color="#00009e"/><stop offset="0.701" stop-color="#24009e"/><stop offset="1.000" stop-color="#3a009e"/></linearGradient><linearGradient id="o78" gradientUnits="userSpaceOnUse" x1="1172.2" x2="1318.2" y1="0" y2="0"><stop offset="0.000" stop-color="#00009e"/><stop offset="0.822" stop-color="#2a009e"/><stop offset="1.000" stop-color="#37009e"/></linearGradient><linearGradient id="o79" gradientUnits="userSpaceOnUse" x1="1178.2" x2="1314.2" y1="0" y2="0"><stop offset="0.000" stop-color="#00009e"/><stop offset="1.000" stop-color="#33009e"/></linearGradient><linearGradient id="o80" gradientUnits="userSpaceOnUse" x1="1182.2" x2="1308.2" y1="0" y2="0"><stop offset="0.000" stop-color="#00009e"/><stop offset="1.000" stop-color="#2f009e"/></linearGradient><linearGradient id="o81" gradientUnits="userSpaceOnUse" x1="1188.2" x2="1304.2" y1="0" y2="0"><stop offset="0.000" stop-color="#01009e"/><stop offset="1.000" stop-color="#2c009e"/></linearGradient><linearGradient id="o82" gradientUnits="userSpaceOnUse" x1="1194.2" x2="1298.2" y1="0" y2="0"><stop offset="0.000" stop-color="#03009e"/><stop offset="1.000" stop-color="#28009e"/></linearGradient><linearGradient id="o83" gradientUnits="userSpaceOnUse" x1="1198.2" x2="1294.2" y1="0" y2="0"><stop offset="0.000" stop-color="#03009e"/><stop offset="1.000" stop-color="#26009e"/></linearGradient><linearGradient id="o84" gradientUnits="userSpaceOnUse" x1="1204.2" x2="1288.2" y1="0" y2="0"><stop offset="0.000" stop-color="#05009e"/><stop offset="1.000" stop-color="#22009e"/></linearGradient><linearGradient id="o85" gradientUnits="userSpaceOnUse" x1="1210.2" x2="1284.2" y1="0" y2="0"><stop offset="0.000" stop-color="#06009e"/><stop offset="1.000" stop-color="#20009e"/></linearGradient><linearGradient id="o86" gradientUnits="userSpaceOnUse" x1="1216.2" x2="1280.2" y1="0" y2="0"><stop offset="0.000" stop-color="#07009e"/><stop offset="1.000" stop-color="#1d009e"/></linearGradient><linearGradient id="o87" gradientUnits="userSpaceOnUse" x1="1224.2" x2="1274.2" y1="0" y2="0"><stop offset="0.000" stop-color="#09009e"/><stop offset="1.000" stop-color="#1a009e"/></linearGradient><linearGradient id="o88" gradientUnits="userSpaceOnUse" x1="1230.2" x2="1270.2" y1="0" y2="0"><stop offset="0.000" stop-color="#0b009e"/><stop offset="1.000" stop-color="#18009e"/></linearGradient><linearGradient id="o89" gradientUnits="userSpaceOnUse" x1="1234.2" x2="1264.2" y1="0" y2="0"><stop offset="0.000" stop-color="#0c009e"/><stop offset="1.000" stop-color="#15009e"/></linearGradient><linearGradient id="o90" gradientUnits="userSpaceOnUse" x1="1242.2" x2="1260.2" y1="0" y2="0"><stop offset="0.000" stop-color="#0e009e"/><stop offset="1.000" stop-color="#13009e"/></linearGradient><linearGradient id="o91" gradientUnits="userSpaceOnUse" x1="1248.2" x2="1254.2" y1="0" y2="0"><stop offset="0.000" stop-color="#0f009e"/><stop offset="1.000" stop-color="#11009e"/></linearGradient><linearGradient id="i0" gradientUnits="userSpaceOnUse" x1="1116.5" x2="1136.5" y1="0" y2="0"><stop offset="0.000" stop-color="#00ff00"/><stop offset="1.000" stop-color="#20ff00"/></linearGradient><linearGradient id="i1" gradientUnits="userSpaceOnUse" x1="1116.5" x2="1168.5" y1="0" y2="0"><stop offset="0.000" stop-color="#00ff03"/><stop offset="0.423" stop-color="#24ff01"/><stop offset="1.000" stop-color="#7bff00"/></linearGradient><linearGradient id="i2" gradientUnits="userSpaceOnUse" x1="1116.5" x2="1200.5" y1="0" y2="0"><stop offset="0.000" stop-color="#00ff07"/><stop offset="0.238" stop-color="#1eff05"/><stop offset="0.595" stop-color="#74ff02"/><stop offset="0.929" stop-color="#e7ff00"/><stop offset="1.000" stop-color="#fff900"/></linearGradient><linearGradient id="i3" gradientUnits="userSpaceOnUse" x1="1118.5" x2="1232.5" y1="0" y2="0"><stop offset="0.000" stop-color="#00ff0b"/><stop offset="0.211" stop-color="#2cff09"/><stop offset="0.474" stop-color="#8aff05"/><stop offset="0.702" stop-color="#fcff02"/><stop offset="0.895" stop-color="#ffab00"/><stop offset="1.000" stop-color="#ff8c00"/></linearGradient><linearGradient id="i4" gradientUnits="userSpaceOnUse" x1="1118.5" x2="1264.5" y1="0" y2="0"><stop offset="0.000" stop-color="#00ff10"/><stop offset="0.151" stop-color="#26ff0e"/><stop offset="0.356" stop-color="#82ff0a"/><stop offset="0.534" stop-color="#f4ff07"/><stop offset="0.562" stop-color="#fff606"/><stop offset="0.699" stop-color="#ffaa02"/><stop offset="0.904" stop-color="#ff6900"/><stop offset="1.000" stop-color="#ff5500"/></linearGradient><linearGradient id="i5" gradientUnits="userSpaceOnUse" x1="1118.5" x2="1296.5" y1="0" y2="0"><stop offset="0.000" stop-color="#00ff16"/><stop offset="0.112" stop-color="#21ff14"/><stop offset="0.281" stop-color="#7bff10"/><stop offset="0.427" stop-color="#ebff0d"/><stop offset="0.449" stop-color="#ffff0d"/><stop offset="0.551" stop-color="#ffb507"/><stop offset="0.697" stop-color="#ff7503"/><stop offset="0.933" stop-color="#ff3f00"/><stop offset="1.000" stop-color="#ff3500"/></linearGradient><linearGradient id="i6" gradientUnits="userSpaceOnUse" x1="1118.5" x2="1328.5" y1="0" y2="0"><stop offset="0.000" stop-color="#00ff1b"/><stop offset="0.086" stop-color="#1bff1a"/><stop offset="0.219" stop-color="#6cff17"/><stop offset="0.352" stop-color="#e2ff14"/><stop offset="0.381" stop-color="#fffd13"/><stop offset="0.467" stop-color="#ffb30c"/><stop offset="0.590" stop-color="#ff7406"/><stop offset="0.790" stop-color="#ff3e01"/><stop offset="1.000" stop-color="#ff2100"/></linearGradient><linearGradient id="i7" gradientUnits="userSpaceOnUse" x1="1120.5" x2="1360.5" y1="0" y2="0"><stop offset="0.000" stop-color="#00ff21"/><stop offset="0.092" stop-color="#29ff20"/><stop offset="0.208" stop-color="#82ff1e"/><stop offset="0.325" stop-color="#fffc1b"/><stop offset="0.400" stop-color="#ffb211"/><stop offset="0.508" stop-color="#ff720a"/><stop offset="0.683" stop-color="#ff3d03"/><stop offset="0.992" stop-color="#ff1400"/><stop offset="1.000" stop-color="#ff1300"/></linearGradient><linearGradient id="i8" gradientUnits="userSpaceOnUse" x1="1120.5" x2="1392.5" y1="0" y2="0"><stop offset="0.000" stop-color="#00ff28"/><stop offset="0.081" stop-color="#28ff27"/><stop offset="0.184" stop-color="#82ff25"/><stop offset="0.287" stop-color="#fffa22"/><stop offset="0.353" stop-color="#ffb017"/><stop offset="0.449" stop-color="#ff710e"/><stop offset="0.603" stop-color="#ff3c06"/><stop offset="0.875" stop-color="#ff1300"/><stop offset="1.000" stop-color="#ff0a00"/></linearGradient><linearGradient id="i9" gradientUnits="userSpaceOnUse" x1="1120.5" x2="1424.5" y1="0" y2="0"><stop offset="0.000" stop-color="#00ff2f"/><stop offset="0.066" stop-color="#23ff2e"/><stop offset="0.158" stop-color="#7bff2d"/><stop offset="0.243" stop-color="#f0ff2c"/><stop offset="0.257" stop-color="#fff92a"/><stop offset="0.316" stop-color="#ffaf1d"/><stop offset="0.401" stop-color="#ff7012"/><stop offset="0.539" stop-color="#ff3b09"/><stop offset="0.783" stop-color="#ff1202"/><stop offset="1.000" stop-color="#ff0400"/></linearGradient><linearGradient id="i10" gradientUnits="userSpaceOnUse" x1="1120.5" x2="1454.5" y1="0" y2="0"><stop offset="0.000" stop-color="#00ff36"/><stop offset="0.054" stop-color="#1dff36"/><stop offset="0.138" stop-color="#73ff35"/><stop offset="0.216" stop-color="#e7ff35"/><stop offset="0.228" stop-color="#fcff35"/><stop offset="0.287" stop-color="#ffad24"/><stop offset="0.365" stop-color="#ff6e16"/><stop offset="0.491" stop-color="#ff3a0b"/><stop offset="0.713" stop-color="#ff1203"/><stop offset="1.000" stop-color="#ff0000"/></linearGradient><linearGradient id="i11" gradientUnits="userSpaceOnUse" x1="1122.5" x2="1454.5" y1="0" y2="0"><stop offset="0.000" stop-color="#00ff3d"/><stop offset="0.066" stop-color="#2cff3e"/><stop offset="0.151" stop-color="#8bff3e"/><stop offset="0.223" stop-color="#feff3e"/><stop offset="0.277" stop-color="#ffb22c"/><stop offset="0.355" stop-color="#ff711c"/><stop offset="0.476" stop-color="#ff3c0f"/><stop offset="0.693" stop-color="#ff1305"/><stop offset="1.000" stop-color="#ff0000"/></linearGradient><linearGradient id="i12" gradientUnits="userSpaceOnUse" x1="1122.5" x2="1452.5" y1="0" y2="0"><stop offset="0.000" stop-color="#00ff45"/><stop offset="0.061" stop-color="#26ff46"/><stop offset="0.145" stop-color="#82ff47"/><stop offset="0.224" stop-color="#ffff49"/><stop offset="0.273" stop-color="#ffb735"/><stop offset="0.345" stop-color="#ff7723"/><stop offset="0.461" stop-color="#ff4114"/><stop offset="0.661" stop-color="#ff1708"/><stop offset="1.000" stop-color="#ff0001"/></linearGradient><linearGradient id="i13" gradientUnits="userSpaceOnUse" x1="1122.5" x2="1448.5" y1="0" y2="0"><stop offset="0.000" stop-color="#00ff4d"/><stop offset="0.055" stop-color="#20ff4f"/><stop offset="0.135" stop-color="#73ff51"/><stop offset="0.209" stop-color="#e0ff53"/><stop offset="0.227" stop-color="#fffd53"/><stop offset="0.276" stop-color="#ffb63d"/><stop offset="0.350" stop-color="#ff7629"/><stop offset="0.466" stop-color="#ff4018"/><stop offset="0.669" stop-color="#ff160b"/><stop offset="1.000" stop-color="#ff0002"/></linearGradient><linearGradient id="i14" gradientUnits="userSpaceOnUse" x1="1122.5" x2="1446.5" y1="0" y2="0"><stop offset="0.000" stop-color="#00ff56"/><stop offset="0.056" stop-color="#1fff58"/><stop offset="0.136" stop-color="#72ff5b"/><stop offset="0.210" stop-color="#e1ff5e"/><stop offset="0.228" stop-color="#fffc5e"/><stop offset="0.278" stop-color="#ffb445"/><stop offset="0.352" stop-color="#ff742f"/><stop offset="0.469" stop-color="#ff3f1c"/><stop offset="0.673" stop-color="#ff150d"/><stop offset="1.000" stop-color="#ff0004"/></linearGradient><linearGradient id="i15" gradientUnits="userSpaceOnUse" x1="1124.5" x2="1442.5" y1="0" y2="0"><stop offset="0.000" stop-color="#00ff5f"/><stop offset="0.069" stop-color="#2eff62"/><stop offset="0.151" stop-color="#8bff66"/><stop offset="0.226" stop-color="#fffa69"/><stop offset="0.277" stop-color="#ffb34d"/><stop offset="0.352" stop-color="#ff7335"/><stop offset="0.472" stop-color="#ff3e20"/><stop offset="0.679" stop-color="#ff150f"/><stop offset="1.000" stop-color="#ff0005"/></linearGradient><linearGradient id="i16" gradientUnits="userSpaceOnUse" x1="1124.5" x2="1440.5" y1="0" y2="0"><stop offset="0.000" stop-color="#00ff68"/><stop offset="0.063" stop-color="#28ff6c"/><stop offset="0.146" stop-color="#83ff71"/><stop offset="0.222" stop-color="#faff77"/><stop offset="0.285" stop-color="#ffaa53"/><stop offset="0.367" stop-color="#ff6a38"/><stop offset="0.500" stop-color="#ff3521"/><stop offset="0.734" stop-color="#ff0f0f"/><stop offset="1.000" stop-color="#ff0006"/></linearGradient><linearGradient id="i17" gradientUnits="userSpaceOnUse" x1="1124.5" x2="1438.5" y1="0" y2="0"><stop offset="0.000" stop-color="#00ff72"/><stop offset="0.057" stop-color="#22ff76"/><stop offset="0.140" stop-color="#7aff7c"/><stop offset="0.217" stop-color="#f0ff83"/><stop offset="0.229" stop-color="#fff780"/><stop offset="0.280" stop-color="#ffaf5f"/><stop offset="0.357" stop-color="#ff7041"/><stop offset="0.478" stop-color="#ff3b28"/><stop offset="0.694" stop-color="#ff1314"/><stop offset="1.000" stop-color="#ff0008"/></linearGradient><linearGradient id="i18" gradientUnits="userSpaceOnUse" x1="1124.5" x2="1434.5" y1="0" y2="0"><stop offset="0.000" stop-color="#00ff7c"/><stop offset="0.052" stop-color="#1cff80"/><stop offset="0.135" stop-color="#72ff87"/><stop offset="0.213" stop-color="#e6ff90"/><stop offset="0.226" stop-color="#fdff91"/><stop offset="0.284" stop-color="#ffae68"/><stop offset="0.361" stop-color="#ff6f48"/><stop offset="0.484" stop-color="#ff3a2d"/><stop offset="0.703" stop-color="#ff1216"/><stop offset="1.000" stop-color="#ff000a"/></linearGradient><linearGradient id="i19" gradientUnits="userSpaceOnUse" x1="1126.5" x2="1432.5" y1="0" y2="0"><stop offset="0.000" stop-color="#00ff87"/><stop offset="0.065" stop-color="#2bff8d"/><stop offset="0.144" stop-color="#83ff95"/><stop offset="0.216" stop-color="#f3ff9e"/><stop offset="0.222" stop-color="#ffff9f"/><stop offset="0.275" stop-color="#ffb376"/><stop offset="0.353" stop-color="#ff7151"/><stop offset="0.477" stop-color="#ff3b32"/><stop offset="0.693" stop-color="#ff131a"/><stop offset="1.000" stop-color="#ff000c"/></linearGradient><linearGradient id="i20" gradientUnits="userSpaceOnUse" x1="1126.5" x2="1428.5" y1="0" y2="0"><stop offset="0.000" stop-color="#00ff91"/><stop offset="0.060" stop-color="#25ff98"/><stop offset="0.139" stop-color="#7affa1"/><stop offset="0.212" stop-color="#e9ffac"/><stop offset="0.225" stop-color="#fffdad"/><stop offset="0.278" stop-color="#ffb180"/><stop offset="0.358" stop-color="#ff7058"/><stop offset="0.483" stop-color="#ff3a37"/><stop offset="0.702" stop-color="#ff121d"/><stop offset="1.000" stop-color="#ff000e"/></linearGradient><linearGradient id="i21" gradientUnits="userSpaceOnUse" x1="1126.5" x2="1426.5" y1="0" y2="0"><stop offset="0.000" stop-color="#00ff9d"/><stop offset="0.060" stop-color="#24ffa4"/><stop offset="0.140" stop-color="#7affaf"/><stop offset="0.213" stop-color="#eaffbb"/><stop offset="0.227" stop-color="#fffcbb"/><stop offset="0.280" stop-color="#ffb08a"/><stop offset="0.360" stop-color="#ff6e5f"/><stop offset="0.487" stop-color="#ff393c"/><stop offset="0.707" stop-color="#ff111f"/><stop offset="1.000" stop-color="#ff0010"/></linearGradient><linearGradient id="i22" gradientUnits="userSpaceOnUse" x1="1126.5" x2="1422.5" y1="0" y2="0"><stop offset="0.000" stop-color="#00ffa8"/><stop offset="0.054" stop-color="#1dffaf"/><stop offset="0.135" stop-color="#71ffbc"/><stop offset="0.209" stop-color="#e0ffc9"/><stop offset="0.230" stop-color="#fffac9"/><stop offset="0.284" stop-color="#ffae95"/><stop offset="0.365" stop-color="#ff6d67"/><stop offset="0.493" stop-color="#ff3841"/><stop offset="0.716" stop-color="#ff1122"/><stop offset="1.000" stop-color="#ff0012"/></linearGradient><linearGradient id="i23" gradientUnits="userSpaceOnUse" x1="1126.5" x2="1420.5" y1="0" y2="0"><stop offset="0.000" stop-color="#00ffb4"/><stop offset="0.048" stop-color="#17ffbb"/><stop offset="0.129" stop-color="#69ffc9"/><stop offset="0.204" stop-color="#d5ffd8"/><stop offset="0.224" stop-color="#f9ffdd"/><stop offset="0.293" stop-color="#ffa59a"/><stop offset="0.374" stop-color="#ff676b"/><stop offset="0.503" stop-color="#ff3544"/><stop offset="0.735" stop-color="#ff0f24"/><stop offset="1.000" stop-color="#ff0014"/></linearGradient><linearGradient id="i24" gradientUnits="userSpaceOnUse" x1="1128.5" x2="1416.5" y1="0" y2="0"><stop offset="0.000" stop-color="#00ffc1"/><stop offset="0.062" stop-color="#27ffcc"/><stop offset="0.146" stop-color="#83ffdc"/><stop offset="0.222" stop-color="#fbffee"/><stop offset="0.285" stop-color="#ffaaab"/><stop offset="0.368" stop-color="#ff6976"/><stop offset="0.500" stop-color="#ff354b"/><stop offset="0.736" stop-color="#ff0f28"/><stop offset="1.000" stop-color="#ff0016"/></linearGradient><linearGradient id="i25" gradientUnits="userSpaceOnUse" x1="1128.5" x2="1414.5" y1="0" y2="0"><stop offset="0.000" stop-color="#00ffce"/><stop offset="0.056" stop-color="#20ffd8"/><stop offset="0.140" stop-color="#7affea"/><stop offset="0.217" stop-color="#f0fffe"/><stop offset="0.231" stop-color="#fff4f7"/><stop offset="0.287" stop-color="#ffa9b6"/><stop offset="0.371" stop-color="#ff687e"/><stop offset="0.503" stop-color="#ff3450"/><stop offset="0.741" stop-color="#ff0e2b"/><stop offset="1.000" stop-color="#ff0019"/></linearGradient><linearGradient id="i26" gradientUnits="userSpaceOnUse" x1="1128.5" x2="1410.5" y1="0" y2="0"><stop offset="0.000" stop-color="#00ffdc"/><stop offset="0.050" stop-color="#1affe5"/><stop offset="0.128" stop-color="#68fff7"/><stop offset="0.206" stop-color="#cef3ff"/><stop offset="0.241" stop-color="#ffe7fd"/><stop offset="0.298" stop-color="#ffa0bc"/><stop offset="0.383" stop-color="#ff6383"/><stop offset="0.525" stop-color="#ff2f52"/><stop offset="0.780" stop-color="#ff0b2b"/><stop offset="1.000" stop-color="#ff001c"/></linearGradient><linearGradient id="i27" gradientUnits="userSpaceOnUse" x1="1128.5" x2="1408.5" y1="0" y2="0"><stop offset="0.000" stop-color="#00ffe9"/><stop offset="0.050" stop-color="#19fff4"/><stop offset="0.136" stop-color="#6cf5ff"/><stop offset="0.250" stop-color="#fcd7ff"/><stop offset="0.321" stop-color="#ff8bb5"/><stop offset="0.421" stop-color="#ff507a"/><stop offset="0.586" stop-color="#ff234a"/><stop offset="0.893" stop-color="#ff0325"/><stop offset="1.000" stop-color="#ff001e"/></linearGradient><linearGradient id="i28" gradientUnits="userSpaceOnUse" x1="1130.5" x2="1404.5" y1="0" y2="0"><stop offset="0.000" stop-color="#00fff9"/><stop offset="0.073" stop-color="#2ff4ff"/><stop offset="0.190" stop-color="#a5d8ff"/><stop offset="0.263" stop-color="#ffc4fd"/><stop offset="0.328" stop-color="#ff83ba"/><stop offset="0.431" stop-color="#ff4c7e"/><stop offset="0.606" stop-color="#ff1f4c"/><stop offset="0.934" stop-color="#ff0225"/><stop offset="1.000" stop-color="#ff0021"/></linearGradient><linearGradient id="i29" gradientUnits="userSpaceOnUse" x1="1130.5" x2="1402.5" y1="0" y2="0"><stop offset="0.000" stop-color="#00f6ff"/><stop offset="0.066" stop-color="#25e7ff"/><stop offset="0.184" stop-color="#94ccff"/><stop offset="0.272" stop-color="#fcb7ff"/><stop offset="0.353" stop-color="#ff73b3"/><stop offset="0.463" stop-color="#ff4079"/><stop offset="0.654" stop-color="#ff1848"/><stop offset="1.000" stop-color="#ff0024"/></linearGradient><linearGradient id="i30" gradientUnits="userSpaceOnUse" x1="1130.5" x2="1398.5" y1="0" y2="0"><stop offset="0.000" stop-color="#00e9ff"/><stop offset="0.067" stop-color="#23daff"/><stop offset="0.194" stop-color="#93beff"/><stop offset="0.291" stop-color="#ffa7fd"/><stop offset="0.366" stop-color="#ff6cb8"/><stop offset="0.485" stop-color="#ff3a7a"/><stop offset="0.679" stop-color="#ff154a"/><stop offset="1.000" stop-color="#ff0027"/></linearGradient><linearGradient id="i31" gradientUnits="userSpaceOnUse" x1="1130.5" x2="1396.5" y1="0" y2="0"><stop offset="0.000" stop-color="#00dcff"/><stop offset="0.060" stop-color="#1bd0ff"/><stop offset="0.188" stop-color="#84b5ff"/><stop offset="0.301" stop-color="#fc9cff"/><stop offset="0.391" stop-color="#ff5eb2"/><stop offset="0.519" stop-color="#ff3176"/><stop offset="0.737" stop-color="#ff0e45"/><stop offset="1.000" stop-color="#ff002a"/></linearGradient><linearGradient id="i32" gradientUnits="userSpaceOnUse" x1="1132.5" x2="1392.5" y1="0" y2="0"><stop offset="0.000" stop-color="#00cfff"/><stop offset="0.085" stop-color="#2dbeff"/><stop offset="0.223" stop-color="#a1a2ff"/><stop offset="0.315" stop-color="#ff8efd"/><stop offset="0.400" stop-color="#ff59b6"/><stop offset="0.531" stop-color="#ff2e7a"/><stop offset="0.746" stop-color="#ff0e49"/><stop offset="1.000" stop-color="#ff002e"/></linearGradient><linearGradient id="i33" gradientUnits="userSpaceOnUse" x1="1132.5" x2="1390.5" y1="0" y2="0"><stop offset="0.000" stop-color="#00c4ff"/><stop offset="0.085" stop-color="#2ab4ff"/><stop offset="0.233" stop-color="#a097ff"/><stop offset="0.326" stop-color="#fc84ff"/><stop offset="0.426" stop-color="#ff4eb1"/><stop offset="0.566" stop-color="#ff2676"/><stop offset="0.806" stop-color="#ff0945"/><stop offset="1.000" stop-color="#ff0031"/></linearGradient><linearGradient id="i34" gradientUnits="userSpaceOnUse" x1="1132.5" x2="1388.5" y1="0" y2="0"><stop offset="0.000" stop-color="#00baff"/><stop offset="0.078" stop-color="#22acff"/><stop offset="0.227" stop-color="#9190ff"/><stop offset="0.344" stop-color="#ff79fe"/><stop offset="0.430" stop-color="#ff4cba"/><stop offset="0.562" stop-color="#ff267e"/><stop offset="0.789" stop-color="#ff0a4c"/><stop offset="1.000" stop-color="#ff0034"/></linearGradient><linearGradient id="i35" gradientUnits="userSpaceOnUse" x1="1132.5" x2="1384.5" y1="0" y2="0"><stop offset="0.000" stop-color="#00b1ff"/><stop offset="0.079" stop-color="#20a3ff"/><stop offset="0.230" stop-color="#8a88ff"/><stop offset="0.365" stop-color="#ff6dfa"/><stop offset="0.460" stop-color="#ff42b4"/><stop offset="0.611" stop-color="#ff1e78"/><stop offset="0.865" stop-color="#ff0547"/><stop offset="1.000" stop-color="#ff0038"/></linearGradient><linearGradient id="i36" gradientUnits="userSpaceOnUse" x1="1134.5" x2="1382.5" y1="0" y2="0"><stop offset="0.000" stop-color="#00a7ff"/><stop offset="0.105" stop-color="#3095ff"/><stop offset="0.274" stop-color="#aa78ff"/><stop offset="0.371" stop-color="#ff66fe"/><stop offset="0.468" stop-color="#ff3eb8"/><stop offset="0.621" stop-color="#ff1c7b"/><stop offset="0.879" stop-color="#ff0449"/><stop offset="1.000" stop-color="#ff003c"/></linearGradient><linearGradient id="i37" gradientUnits="userSpaceOnUse" x1="1134.5" x2="1378.5" y1="0" y2="0"><stop offset="0.000" stop-color="#009fff"/><stop offset="0.098" stop-color="#298fff"/><stop offset="0.270" stop-color="#9c73ff"/><stop offset="0.393" stop-color="#ff5cfa"/><stop offset="0.500" stop-color="#ff35b3"/><stop offset="0.664" stop-color="#ff1678"/><stop offset="0.943" stop-color="#ff0147"/><stop offset="1.000" stop-color="#ff0040"/></linearGradient><linearGradient id="i38" gradientUnits="userSpaceOnUse" x1="1134.5" x2="1376.5" y1="0" y2="0"><stop offset="0.000" stop-color="#0097ff"/><stop offset="0.099" stop-color="#2688ff"/><stop offset="0.281" stop-color="#9c6bff"/><stop offset="0.405" stop-color="#ff57fe"/><stop offset="0.512" stop-color="#ff32b7"/><stop offset="0.678" stop-color="#ff157b"/><stop offset="0.959" stop-color="#ff0149"/><stop offset="1.000" stop-color="#ff0044"/></linearGradient><linearGradient id="i39" gradientUnits="userSpaceOnUse" x1="1134.5" x2="1372.5" y1="0" y2="0"><stop offset="0.000" stop-color="#0090ff"/><stop offset="0.101" stop-color="#2481ff"/><stop offset="0.286" stop-color="#9565ff"/><stop offset="0.429" stop-color="#ff4efa"/><stop offset="0.538" stop-color="#ff2cb6"/><stop offset="0.714" stop-color="#ff1179"/><stop offset="1.000" stop-color="#ff0049"/></linearGradient><linearGradient id="i40" gradientUnits="userSpaceOnUse" x1="1136.5" x2="1370.5" y1="0" y2="0"><stop offset="0.000" stop-color="#0088ff"/><stop offset="0.128" stop-color="#3376ff"/><stop offset="0.325" stop-color="#ac59ff"/><stop offset="0.436" stop-color="#ff49fe"/><stop offset="0.556" stop-color="#ff28b6"/><stop offset="0.735" stop-color="#ff0e7a"/><stop offset="1.000" stop-color="#ff004d"/></linearGradient><linearGradient id="i41" gradientUnits="userSpaceOnUse" x1="1136.5" x2="1366.5" y1="0" y2="0"><stop offset="0.000" stop-color="#0082ff"/><stop offset="0.122" stop-color="#2c71ff"/><stop offset="0.330" stop-color="#a554ff"/><stop offset="0.461" stop-color="#ff41fb"/><stop offset="0.583" stop-color="#ff23b5"/><stop offset="0.774" stop-color="#ff0b79"/><stop offset="1.000" stop-color="#ff0052"/></linearGradient><linearGradient id="i42" gradientUnits="userSpaceOnUse" x1="1136.5" x2="1364.5" y1="0" y2="0"><stop offset="0.000" stop-color="#007cff"/><stop offset="0.123" stop-color="#2a6cff"/><stop offset="0.333" stop-color="#9f50ff"/><stop offset="0.474" stop-color="#ff3dfe"/><stop offset="0.596" stop-color="#ff20b8"/><stop offset="0.789" stop-color="#ff0a7c"/><stop offset="1.000" stop-color="#ff0057"/></linearGradient><linearGradient id="i43" gradientUnits="userSpaceOnUse" x1="1136.5" x2="1360.5" y1="0" y2="0"><stop offset="0.000" stop-color="#0076ff"/><stop offset="0.116" stop-color="#2468ff"/><stop offset="0.330" stop-color="#934dff"/><stop offset="0.500" stop-color="#ff36fb"/><stop offset="0.634" stop-color="#ff1bb4"/><stop offset="0.839" stop-color="#ff0778"/><stop offset="1.000" stop-color="#ff005d"/></linearGradient><linearGradient id="i44" gradientUnits="userSpaceOnUse" x1="1138.5" x2="1358.5" y1="0" y2="0"><stop offset="0.000" stop-color="#0070ff"/><stop offset="0.145" stop-color="#315fff"/><stop offset="0.382" stop-color="#ad42ff"/><stop offset="0.509" stop-color="#ff32fe"/><stop offset="0.645" stop-color="#ff19b7"/><stop offset="0.855" stop-color="#ff057b"/><stop offset="1.000" stop-color="#ff0062"/></linearGradient><linearGradient id="i45" gradientUnits="userSpaceOnUse" x1="1138.5" x2="1354.5" y1="0" y2="0"><stop offset="0.000" stop-color="#006bff"/><stop offset="0.148" stop-color="#2f5aff"/><stop offset="0.389" stop-color="#a73eff"/><stop offset="0.537" stop-color="#ff2cfb"/><stop offset="0.685" stop-color="#ff14b3"/><stop offset="0.907" stop-color="#ff0378"/><stop offset="1.000" stop-color="#ff0068"/></linearGradient><linearGradient id="i46" gradientUnits="userSpaceOnUse" x1="1138.5" x2="1352.5" y1="0" y2="0"><stop offset="0.000" stop-color="#0066ff"/><stop offset="0.140" stop-color="#2957ff"/><stop offset="0.383" stop-color="#9c3cff"/><stop offset="0.551" stop-color="#ff29fe"/><stop offset="0.701" stop-color="#ff12b6"/><stop offset="0.925" stop-color="#ff027b"/><stop offset="1.000" stop-color="#ff006d"/></linearGradient><linearGradient id="i47" gradientUnits="userSpaceOnUse" x1="1138.5" x2="1348.5" y1="0" y2="0"><stop offset="0.000" stop-color="#0062ff"/><stop offset="0.143" stop-color="#2753ff"/><stop offset="0.400" stop-color="#9b37ff"/><stop offset="0.581" stop-color="#ff24fc"/><stop offset="0.733" stop-color="#ff0fb6"/><stop offset="0.971" stop-color="#ff0079"/><stop offset="1.000" stop-color="#ff0074"/></linearGradient><linearGradient id="i48" gradientUnits="userSpaceOnUse" x1="1140.5" x2="1346.5" y1="0" y2="0"><stop offset="0.000" stop-color="#005dff"/><stop offset="0.175" stop-color="#334bff"/><stop offset="0.447" stop-color="#af2fff"/><stop offset="0.592" stop-color="#ff21fe"/><stop offset="0.748" stop-color="#ff0db9"/><stop offset="0.990" stop-color="#ff007c"/><stop offset="1.000" stop-color="#ff007a"/></linearGradient><linearGradient id="i49" gradientUnits="userSpaceOnUse" x1="1140.5" x2="1344.5" y1="0" y2="0"><stop offset="0.000" stop-color="#0059ff"/><stop offset="0.176" stop-color="#3147ff"/><stop offset="0.461" stop-color="#ae2bff"/><stop offset="0.618" stop-color="#ff1cfc"/><stop offset="0.784" stop-color="#ff0ab5"/><stop offset="1.000" stop-color="#ff0080"/></linearGradient><linearGradient id="i50" gradientUnits="userSpaceOnUse" x1="1140.5" x2="1340.5" y1="0" y2="0"><stop offset="0.000" stop-color="#0055ff"/><stop offset="0.170" stop-color="#2b45ff"/><stop offset="0.460" stop-color="#a32aff"/><stop offset="0.640" stop-color="#ff1aff"/><stop offset="0.810" stop-color="#ff08b8"/><stop offset="1.000" stop-color="#ff0088"/></linearGradient><linearGradient id="i51" gradientUnits="userSpaceOnUse" x1="1140.5" x2="1338.5" y1="0" y2="0"><stop offset="0.000" stop-color="#0051ff"/><stop offset="0.172" stop-color="#2a42ff"/><stop offset="0.465" stop-color="#9e27ff"/><stop offset="0.667" stop-color="#ff16fc"/><stop offset="0.848" stop-color="#ff06b4"/><stop offset="1.000" stop-color="#ff008f"/></linearGradient><linearGradient id="i52" gradientUnits="userSpaceOnUse" x1="1142.5" x2="1334.5" y1="0" y2="0"><stop offset="0.000" stop-color="#004dff"/><stop offset="0.208" stop-color="#353bff"/><stop offset="0.531" stop-color="#b420ff"/><stop offset="0.698" stop-color="#ff12f9"/><stop offset="0.885" stop-color="#ff04b4"/><stop offset="1.000" stop-color="#ff0097"/></linearGradient><linearGradient id="i53" gradientUnits="userSpaceOnUse" x1="1142.5" x2="1332.5" y1="0" y2="0"><stop offset="0.000" stop-color="#004aff"/><stop offset="0.200" stop-color="#3039ff"/><stop offset="0.526" stop-color="#aa1eff"/><stop offset="0.716" stop-color="#ff10fc"/><stop offset="0.905" stop-color="#ff03b6"/><stop offset="1.000" stop-color="#ff009e"/></linearGradient><linearGradient id="i54" gradientUnits="userSpaceOnUse" x1="1142.5" x2="1328.5" y1="0" y2="0"><stop offset="0.000" stop-color="#0046ff"/><stop offset="0.204" stop-color="#2e36ff"/><stop offset="0.538" stop-color="#a51cff"/><stop offset="0.753" stop-color="#ff0dfa"/><stop offset="0.957" stop-color="#ff01b3"/><stop offset="1.000" stop-color="#ff00a8"/></linearGradient><linearGradient id="i55" gradientUnits="userSpaceOnUse" x1="1142.5" x2="1326.5" y1="0" y2="0"><stop offset="0.000" stop-color="#0043ff"/><stop offset="0.196" stop-color="#2934ff"/><stop offset="0.543" stop-color="#a01bff"/><stop offset="0.772" stop-color="#ff0bfc"/><stop offset="0.978" stop-color="#ff00b5"/><stop offset="1.000" stop-color="#ff00b0"/></linearGradient><linearGradient id="i56" gradientUnits="userSpaceOnUse" x1="1142.5" x2="1322.5" y1="0" y2="0"><stop offset="0.000" stop-color="#0041ff"/><stop offset="0.200" stop-color="#2732ff"/><stop offset="0.556" stop-color="#9b19ff"/><stop offset="0.811" stop-color="#ff08fa"/><stop offset="1.000" stop-color="#ff00bb"/></linearGradient><linearGradient id="i57" gradientUnits="userSpaceOnUse" x1="1144.5" x2="1320.5" y1="0" y2="0"><stop offset="0.000" stop-color="#003dff"/><stop offset="0.239" stop-color="#322cff"/><stop offset="0.614" stop-color="#ab13ff"/><stop offset="0.830" stop-color="#ff07fc"/><stop offset="1.000" stop-color="#ff00c3"/></linearGradient><linearGradient id="i58" gradientUnits="userSpaceOnUse" x1="1144.5" x2="1316.5" y1="0" y2="0"><stop offset="0.000" stop-color="#003aff"/><stop offset="0.244" stop-color="#302aff"/><stop offset="0.640" stop-color="#ab11ff"/><stop offset="0.872" stop-color="#ff04fa"/><stop offset="1.000" stop-color="#ff00cf"/></linearGradient><linearGradient id="i59" gradientUnits="userSpaceOnUse" x1="1144.5" x2="1314.5" y1="0" y2="0"><stop offset="0.000" stop-color="#0038ff"/><stop offset="0.235" stop-color="#2b29ff"/><stop offset="0.635" stop-color="#a210ff"/><stop offset="0.894" stop-color="#ff03fd"/><stop offset="1.000" stop-color="#ff00d8"/></linearGradient><linearGradient id="i60" gradientUnits="userSpaceOnUse" x1="1144.5" x2="1310.5" y1="0" y2="0"><stop offset="0.000" stop-color="#0036ff"/><stop offset="0.241" stop-color="#2927ff"/><stop offset="0.651" stop-color="#9d0fff"/><stop offset="0.940" stop-color="#ff01fa"/><stop offset="1.000" stop-color="#ff00e6"/></linearGradient><linearGradient id="i61" gradientUnits="userSpaceOnUse" x1="1146.5" x2="1308.5" y1="0" y2="0"><stop offset="0.000" stop-color="#0033ff"/><stop offset="0.284" stop-color="#3322ff"/><stop offset="0.728" stop-color="#b00aff"/><stop offset="0.963" stop-color="#ff00fd"/><stop offset="1.000" stop-color="#ff00f0"/></linearGradient><linearGradient id="i62" gradientUnits="userSpaceOnUse" x1="1146.5" x2="1304.5" y1="0" y2="0"><stop offset="0.000" stop-color="#0030ff"/><stop offset="0.278" stop-color="#2f21ff"/><stop offset="0.734" stop-color="#a80aff"/><stop offset="1.000" stop-color="#ff00ff"/></linearGradient><linearGradient id="i63" gradientUnits="userSpaceOnUse" x1="1146.5" x2="1302.5" y1="0" y2="0"><stop offset="0.000" stop-color="#002eff"/><stop offset="0.282" stop-color="#2d1fff"/><stop offset="0.744" stop-color="#a309ff"/><stop offset="1.000" stop-color="#f400ff"/></linearGradient><linearGradient id="i64" gradientUnits="userSpaceOnUse" x1="1146.5" x2="1300.5" y1="0" y2="0"><stop offset="0.000" stop-color="#002cff"/><stop offset="0.273" stop-color="#291eff"/><stop offset="0.753" stop-color="#9f08ff"/><stop offset="1.000" stop-color="#ea00ff"/></linearGradient><linearGradient id="i65" gradientUnits="userSpaceOnUse" x1="1148.5" x2="1296.5" y1="0" y2="0"><stop offset="0.000" stop-color="#002aff"/><stop offset="0.338" stop-color="#3519ff"/><stop offset="0.851" stop-color="#b104ff"/><stop offset="1.000" stop-color="#dc00ff"/></linearGradient><linearGradient id="i66" gradientUnits="userSpaceOnUse" x1="1148.5" x2="1294.5" y1="0" y2="0"><stop offset="0.000" stop-color="#0028ff"/><stop offset="0.329" stop-color="#3019ff"/><stop offset="0.863" stop-color="#ad03ff"/><stop offset="1.000" stop-color="#d300ff"/></linearGradient><linearGradient id="i67" gradientUnits="userSpaceOnUse" x1="1148.5" x2="1290.5" y1="0" y2="0"><stop offset="0.000" stop-color="#0026ff"/><stop offset="0.324" stop-color="#2c18ff"/><stop offset="0.873" stop-color="#a503ff"/><stop offset="1.000" stop-color="#c600ff"/></linearGradient><linearGradient id="i68" gradientUnits="userSpaceOnUse" x1="1148.5" x2="1288.5" y1="0" y2="0"><stop offset="0.000" stop-color="#0024ff"/><stop offset="0.329" stop-color="#2b16ff"/><stop offset="0.886" stop-color="#a102ff"/><stop offset="1.000" stop-color="#bd00ff"/></linearGradient><linearGradient id="i69" gradientUnits="userSpaceOnUse" x1="1150.5" x2="1284.5" y1="0" y2="0"><stop offset="0.000" stop-color="#0022ff"/><stop offset="0.388" stop-color="#3313ff"/><stop offset="1.000" stop-color="#b200ff"/></linearGradient><linearGradient id="i70" gradientUnits="userSpaceOnUse" x1="1150.5" x2="1282.5" y1="0" y2="0"><stop offset="0.000" stop-color="#0021ff"/><stop offset="0.394" stop-color="#3212ff"/><stop offset="1.000" stop-color="#aa00ff"/></linearGradient><linearGradient id="i71" gradientUnits="userSpaceOnUse" x1="1150.5" x2="1278.5" y1="0" y2="0"><stop offset="0.000" stop-color="#001fff"/><stop offset="0.391" stop-color="#2e11ff"/><stop offset="1.000" stop-color="#9f00ff"/></linearGradient><linearGradient id="i72" gradientUnits="userSpaceOnUse" x1="1150.5" x2="1276.5" y1="0" y2="0"><stop offset="0.000" stop-color="#001eff"/><stop offset="0.397" stop-color="#2d10ff"/><stop offset="1.000" stop-color="#9800ff"/></linearGradient><linearGradient id="i73" gradientUnits="userSpaceOnUse" x1="1152.5" x2="1272.5" y1="0" y2="0"><stop offset="0.000" stop-color="#001cff"/><stop offset="0.467" stop-color="#350dff"/><stop offset="1.000" stop-color="#8f00ff"/></linearGradient><linearGradient id="i74" gradientUnits="userSpaceOnUse" x1="1152.5" x2="1270.5" y1="0" y2="0"><stop offset="0.000" stop-color="#001aff"/><stop offset="0.458" stop-color="#310cff"/><stop offset="1.000" stop-color="#8800ff"/></linearGradient><linearGradient id="i75" gradientUnits="userSpaceOnUse" x1="1152.5" x2="1266.5" y1="0" y2="0"><stop offset="0.000" stop-color="#0019ff"/><stop offset="0.474" stop-color="#2f0bff"/><stop offset="1.000" stop-color="#7f00ff"/></linearGradient><linearGradient id="i76" gradientUnits="userSpaceOnUse" x1="1152.5" x2="1264.5" y1="0" y2="0"><stop offset="0.000" stop-color="#0018ff"/><stop offset="0.464" stop-color="#2c0bff"/><stop offset="1.000" stop-color="#7900ff"/></linearGradient><linearGradient id="i77" gradientUnits="userSpaceOnUse" x1="1154.5" x2="1260.5" y1="0" y2="0"><stop offset="0.000" stop-color="#0016ff"/><stop offset="0.566" stop-color="#3608ff"/><stop offset="1.000" stop-color="#7100ff"/></linearGradient><linearGradient id="i78" gradientUnits="userSpaceOnUse" x1="1154.5" x2="1258.5" y1="0" y2="0"><stop offset="0.000" stop-color="#0015ff"/><stop offset="0.558" stop-color="#3208ff"/><stop offset="1.000" stop-color="#6c00ff"/></linearGradient><linearGradient id="i79" gradientUnits="userSpaceOnUse" x1="1154.5" x2="1254.5" y1="0" y2="0"><stop offset="0.000" stop-color="#0014ff"/><stop offset="0.580" stop-color="#3107ff"/><stop offset="1.000" stop-color="#6400ff"/></linearGradient><linearGradient id="i80" gradientUnits="userSpaceOnUse" x1="1154.5" x2="1252.5" y1="0" y2="0"><stop offset="0.000" stop-color="#0013ff"/><stop offset="0.571" stop-color="#2d06ff"/><stop offset="1.000" stop-color="#5f00ff"/></linearGradient><linearGradient id="i81" gradientUnits="userSpaceOnUse" x1="1156.5" x2="1250.5" y1="0" y2="0"><stop offset="0.000" stop-color="#0012ff"/><stop offset="0.660" stop-color="#3504ff"/><stop offset="1.000" stop-color="#5a00ff"/></linearGradient><linearGradient id="i82" gradientUnits="userSpaceOnUse" x1="1156.5" x2="1246.5" y1="0" y2="0"><stop offset="0.000" stop-color="#0011ff"/><stop offset="0.689" stop-color="#3304ff"/><stop offset="1.000" stop-color="#5400ff"/></linearGradient><linearGradient id="i83" gradientUnits="userSpaceOnUse" x1="1156.5" x2="1244.5" y1="0" y2="0"><stop offset="0.000" stop-color="#0010ff"/><stop offset="0.682" stop-color="#3003ff"/><stop offset="1.000" stop-color="#4f00ff"/></linearGradient><linearGradient id="i84" gradientUnits="userSpaceOnUse" x1="1156.5" x2="1240.5" y1="0" y2="0"><stop offset="0.000" stop-color="#000fff"/><stop offset="0.714" stop-color="#2f03ff"/><stop offset="1.000" stop-color="#4900ff"/></linearGradient><linearGradient id="i85" gradientUnits="userSpaceOnUse" x1="1158.5" x2="1238.5" y1="0" y2="0"><stop offset="0.000" stop-color="#000dff"/><stop offset="0.825" stop-color="#3601ff"/><stop offset="1.000" stop-color="#4500ff"/></linearGradient><linearGradient id="i86" gradientUnits="userSpaceOnUse" x1="1158.5" x2="1234.5" y1="0" y2="0"><stop offset="0.000" stop-color="#000dff"/><stop offset="0.868" stop-color="#3501ff"/><stop offset="1.000" stop-color="#3f00ff"/></linearGradient><linearGradient id="i87" gradientUnits="userSpaceOnUse" x1="1158.5" x2="1232.5" y1="0" y2="0"><stop offset="0.000" stop-color="#000cff"/><stop offset="0.865" stop-color="#3101ff"/><stop offset="1.000" stop-color="#3c00ff"/></linearGradient><linearGradient id="i88" gradientUnits="userSpaceOnUse" x1="1158.5" x2="1228.5" y1="0" y2="0"><stop offset="0.000" stop-color="#000bff"/><stop offset="0.914" stop-color="#3000ff"/><stop offset="1.000" stop-color="#3600ff"/></linearGradient><linearGradient id="i89" gradientUnits="userSpaceOnUse" x1="1160.5" x2="1226.5" y1="0" y2="0"><stop offset="0.000" stop-color="#000aff"/><stop offset="1.000" stop-color="#3300ff"/></linearGradient><linearGradient id="i90" gradientUnits="userSpaceOnUse" x1="1160.5" x2="1222.5" y1="0" y2="0"><stop offset="0.000" stop-color="#0009ff"/><stop offset="1.000" stop-color="#2e00ff"/></linearGradient><linearGradient id="i91" gradientUnits="userSpaceOnUse" x1="1160.5" x2="1220.5" y1="0" y2="0"><stop offset="0.000" stop-color="#0009ff"/><stop offset="1.000" stop-color="#2b00ff"/></linearGradient><linearGradient id="i92" gradientUnits="userSpaceOnUse" x1="1160.5" x2="1216.5" y1="0" y2="0"><stop offset="0.000" stop-color="#0008ff"/><stop offset="1.000" stop-color="#2600ff"/></linearGradient><linearGradient id="i93" gradientUnits="userSpaceOnUse" x1="1160.5" x2="1214.5" y1="0" y2="0"><stop offset="0.000" stop-color="#0007ff"/><stop offset="1.000" stop-color="#2300ff"/></linearGradient><linearGradient id="i94" gradientUnits="userSpaceOnUse" x1="1162.5" x2="1210.5" y1="0" y2="0"><stop offset="0.000" stop-color="#0006ff"/><stop offset="1.000" stop-color="#1f00ff"/></linearGradient><linearGradient id="i95" gradientUnits="userSpaceOnUse" x1="1162.5" x2="1208.5" y1="0" y2="0"><stop offset="0.000" stop-color="#0006ff"/><stop offset="1.000" stop-color="#1d00ff"/></linearGradient><linearGradient id="i96" gradientUnits="userSpaceOnUse" x1="1162.5" x2="1206.5" y1="0" y2="0"><stop offset="0.000" stop-color="#0005ff"/><stop offset="1.000" stop-color="#1a00ff"/></linearGradient><linearGradient id="i97" gradientUnits="userSpaceOnUse" x1="1162.5" x2="1202.5" y1="0" y2="0"><stop offset="0.000" stop-color="#0005ff"/><stop offset="1.000" stop-color="#1700ff"/></linearGradient><linearGradient id="i98" gradientUnits="userSpaceOnUse" x1="1164.5" x2="1200.5" y1="0" y2="0"><stop offset="0.000" stop-color="#0004ff"/><stop offset="1.000" stop-color="#1400ff"/></linearGradient><linearGradient id="i99" gradientUnits="userSpaceOnUse" x1="1164.5" x2="1196.5" y1="0" y2="0"><stop offset="0.000" stop-color="#0003ff"/><stop offset="1.000" stop-color="#1100ff"/></linearGradient><linearGradient id="i100" gradientUnits="userSpaceOnUse" x1="1164.5" x2="1194.5" y1="0" y2="0"><stop offset="0.000" stop-color="#0003ff"/><stop offset="1.000" stop-color="#0f00ff"/></linearGradient><linearGradient id="i101" gradientUnits="userSpaceOnUse" x1="1164.5" x2="1190.5" y1="0" y2="0"><stop offset="0.000" stop-color="#0003ff"/><stop offset="1.000" stop-color="#0c00ff"/></linearGradient><linearGradient id="i102" gradientUnits="userSpaceOnUse" x1="1166.5" x2="1188.5" y1="0" y2="0"><stop offset="0.000" stop-color="#0002ff"/><stop offset="1.000" stop-color="#0a00ff"/></linearGradient><linearGradient id="i103" gradientUnits="userSpaceOnUse" x1="1166.5" x2="1184.5" y1="0" y2="0"><stop offset="0.000" stop-color="#0001ff"/><stop offset="1.000" stop-color="#0800ff"/></linearGradient><linearGradient id="i104" gradientUnits="userSpaceOnUse" x1="1166.5" x2="1182.5" y1="0" y2="0"><stop offset="0.000" stop-color="#0001ff"/><stop offset="1.000" stop-color="#0600ff"/></linearGradient><linearGradient id="i105" gradientUnits="userSpaceOnUse" x1="1166.5" x2="1178.5" y1="0" y2="0"><stop offset="0.000" stop-color="#0001ff"/><stop offset="1.000" stop-color="#0400ff"/></linearGradient><linearGradient id="i106" gradientUnits="userSpaceOnUse" x1="1168.5" x2="1176.5" y1="0" y2="0"><stop offset="0.000" stop-color="#0000ff"/><stop offset="1.000" stop-color="#0300ff"/></linearGradient><linearGradient id="i107" gradientUnits="userSpaceOnUse" x1="1168.5" x2="1172.5" y1="0" y2="0"><stop offset="0.000" stop-color="#0000ff"/><stop offset="1.000" stop-color="#0100ff"/></linearGradient><clipPath id="hs"><path d="M1253.8 505.2 L1253.8 505.2 L1253.7 505.2 L1253.7 505.2 L1253.7 505.2 L1253.6 505.2 L1253.6 505.2 L1253.6 505.2 L1253.5 505.3 L1253.5 505.3 L1253.5 505.4 L1253.4 505.4 L1253.4 505.4 L1253.3 505.5 L1253.3 505.5 L1253.2 505.4 L1253.2 505.4 L1253.1 505.4 L1253.0 505.4 L1253.0 505.5 L1252.9 505.5 L1252.8 505.6 L1252.8 505.6 L1252.7 505.7 L1252.6 505.7 L1252.6 505.7 L1252.5 505.7 L1252.4 505.7 L1252.3 505.7 L1252.2 505.7 L1252.1 505.7 L1252.0 505.7 L1251.9 505.7 L1251.8 505.7 L1251.7 505.7 L1251.6 505.7 L1251.4 505.7 L1251.3 505.7 L1251.2 505.7 L1251.1 505.8 L1250.9 505.8 L1250.8 505.8 L1250.6 505.7 L1250.4 505.6 L1250.1 505.6 L1249.9 505.4 L1249.6 505.3 L1249.4 505.1 L1249.0 504.9 L1248.7 504.7 L1248.2 504.5 L1247.8 504.2 L1247.3 503.9 L1246.9 503.5 L1246.3 503.2 L1245.8 502.8 L1245.3 502.4 L1244.7 501.9 L1244.1 501.5 L1243.4 500.9 L1242.7 500.4 L1242.0 499.8 L1241.2 499.1 L1240.3 498.4 L1239.4 497.7 L1238.5 496.9 L1237.5 496.1 L1236.5 495.3 L1235.5 494.4 L1234.4 493.5 L1233.3 492.5 L1232.1 491.5 L1230.9 490.5 L1229.6 489.5 L1228.4 488.4 L1227.0 487.3 L1225.6 486.1 L1224.1 484.9 L1222.6 483.6 L1220.9 482.2 L1219.2 480.8 L1217.4 479.4 L1215.5 477.8 L1213.6 476.3 L1211.6 474.6 L1209.6 472.9 L1207.5 471.2 L1205.4 469.5 L1203.2 467.6 L1200.9 465.7 L1198.5 463.6 L1196.0 461.4 L1193.4 459.2 L1190.8 456.9 L1188.1 454.4 L1185.2 451.8 L1182.3 449.0 L1179.4 446.1 L1176.3 443.2 L1173.2 440.1 L1170.0 436.8 L1166.6 433.2 L1162.9 429.2 L1159.1 424.8 L1155.0 420.1 L1150.8 415.1 L1146.4 409.7 L1141.8 404.1 L1137.2 398.1 L1132.4 391.8 L1127.5 385.2 L1122.5 378.2 L1117.3 371.0 L1112.1 363.4 L1106.8 355.6 L1101.5 347.4 L1096.0 338.9 L1090.4 330.0 L1084.8 321.0 L1079.3 311.8 L1073.8 302.6 L1068.4 293.3 L1062.9 283.8 L1057.5 274.1 L1052.1 264.5 L1047.0 254.9 L1042.1 245.4 L1037.5 236.0 L1033.0 226.6 L1028.8 217.2 L1024.7 208.0 L1020.9 199.1 L1017.3 190.4 L1014.0 182.1 L1010.8 173.9 L1007.9 166.0 L1005.2 158.3 L1002.7 151.0 L1000.5 144.1 L998.5 137.5 L996.7 131.3 L995.2 125.5 L993.9 119.9 L992.8 114.7 L991.8 109.7 L991.0 105.0 L990.4 100.6 L990.0 96.5 L989.7 92.7 L989.6 89.1 L989.7 85.7 L989.9 82.4 L990.2 79.4 L990.7 76.6 L991.4 74.0 L992.1 71.5 L993.0 69.2 L994.0 67.1 L995.2 65.1 L996.5 63.3 L997.9 61.6 L999.3 60.1 L1000.9 58.7 L1002.6 57.5 L1004.3 56.5 L1006.2 55.6 L1008.1 54.8 L1010.1 54.0 L1012.1 53.4 L1014.2 52.9 L1016.3 52.5 L1018.6 52.1 L1020.8 51.9 L1023.1 51.6 L1025.4 51.4 L1027.8 51.3 L1030.2 51.1 L1032.6 51.1 L1035.1 51.0 L1037.5 51.0 L1040.0 51.0 L1042.4 50.9 L1044.9 50.9 L1047.3 51.0 L1049.8 51.0 L1052.2 51.1 L1054.7 51.1 L1057.2 51.2 L1059.8 51.3 L1062.3 51.4 L1064.9 51.6 L1067.5 51.7 L1070.1 51.9 L1072.8 52.0 L1075.5 52.2 L1078.3 52.4 L1081.0 52.6 L1083.9 52.8 L1086.7 53.1 L1089.6 53.3 L1092.6 53.6 L1095.5 53.8 L1098.6 54.1 L1101.6 54.4 L1104.8 54.7 L1107.9 55.0 L1111.1 55.3 L1114.4 55.6 L1117.7 56.0 L1121.1 56.3 L1124.6 56.7 L1128.1 57.1 L1131.6 57.4 L1135.3 57.8 L1139.0 58.2 L1142.7 58.6 L1146.5 59.0 L1150.4 59.5 L1154.4 59.9 L1158.4 60.4 L1162.4 60.8 L1166.6 61.3 L1170.8 61.8 L1175.1 62.2 L1179.5 62.7 L1183.9 63.2 L1188.5 63.8 L1193.1 64.3 L1197.7 64.8 L1202.5 65.3 L1207.3 65.9 L1212.2 66.5 L1217.1 67.0 L1222.2 67.6 L1227.3 68.2 L1232.5 68.8 L1237.7 69.4 L1243.1 70.0 L1248.5 70.6 L1254.0 71.3 L1259.5 71.9 L1265.1 72.6 L1270.8 73.2 L1276.6 73.9 L1282.4 74.6 L1288.3 75.2 L1294.3 75.9 L1300.3 76.6 L1306.3 77.3 L1312.5 78.0 L1318.6 78.7 L1324.8 79.4 L1331.1 80.1 L1337.3 80.9 L1343.6 81.6 L1350.0 82.3 L1356.3 83.1 L1362.6 83.8 L1368.8 84.5 L1375.0 85.2 L1381.2 85.9 L1387.3 86.6 L1393.4 87.3 L1399.4 88.0 L1405.5 88.7 L1411.5 89.4 L1417.5 90.1 L1423.6 90.8 L1429.5 91.5 L1435.4 92.2 L1441.1 92.8 L1446.7 93.5 L1452.3 94.1 L1457.7 94.7 L1463.0 95.3 L1468.3 95.9 L1473.4 96.5 L1478.4 97.1 L1483.3 97.7 L1488.2 98.2 L1492.9 98.8 L1497.5 99.3 L1501.9 99.8 L1506.3 100.3 L1510.5 100.8 L1514.6 101.3 L1518.6 101.7 L1522.5 102.2 L1526.2 102.6 L1529.9 103.0 L1533.4 103.4 L1536.8 103.8 L1540.2 104.2 L1543.4 104.6 L1546.6 104.9 L1549.6 105.3 L1552.6 105.6 L1555.5 106.0 L1558.3 106.3 L1561.0 106.6 L1563.7 106.9 L1566.4 107.2 L1568.9 107.5 L1571.4 107.8 L1573.9 108.1 L1576.3 108.4 L1578.6 108.6 L1580.8 108.9 L1583.0 109.2 L1585.2 109.4 L1587.2 109.7 L1589.2 109.9 L1591.2 110.1 L1593.0 110.3 L1594.8 110.5 L1596.5 110.7 L1598.2 110.9 L1599.8 111.1 L1601.3 111.2 L1602.8 111.4 L1604.2 111.6 L1605.5 111.7 L1606.8 111.9 L1608.0 112.0 L1609.2 112.2 L1610.4 112.3 L1611.4 112.4 L1612.5 112.5 L1613.5 112.7 L1614.4 112.8 L1615.4 112.9 L1616.2 113.0 L1617.1 113.1 L1617.9 113.2 L1618.6 113.2 L1619.3 113.3 L1620.0 113.4 L1620.5 113.5 L1621.1 113.5 L1621.6 113.6 L1622.0 113.6 L1622.5 113.7 L1622.9 113.7 L1623.4 113.8 L1623.8 113.8 L1624.1 113.9 L1624.5 113.9 L1624.9 114.0 L1625.4 114.0 L1626.0 114.1 L1626.6 114.2 L1627.3 114.3 L1628.0 114.3 L1628.7 114.4 L1629.3 114.5 L1629.8 114.5 L1630.4 114.6 L1630.9 114.7 L1631.3 114.7 L1631.7 114.8 L1632.1 114.8 L1632.3 114.8 L1632.5 114.9 L1632.6 114.9 L1632.7 114.9 L1632.8 114.9 L1632.9 114.9 Z"/></clipPath><clipPath id="tri"><path d="M1454.3 101.8 L1117.5 70.3 L1169.6 392.6 Z"/></clipPath><filter id="vb1" x="-1%" y="-2%" width="102%" height="104%"><feGaussianBlur stdDeviation="0 1.6"/></filter><filter id="vb2" x="-1%" y="-2%" width="102%" height="104%"><feGaussianBlur stdDeviation="0 1.0"/></filter><clipPath id="plotc"><rect x="988.8" y="41" width="619.3" height="477"/></clipPath></defs>
<g clip-path="url(#plotc)"><g clip-path="url(#hs)"><g filter="url(#vb1)"><rect x="1006.2" y="50.0" width="104.0" height="5" fill="url(#o0)"/><rect x="996.2" y="55.0" width="162.0" height="5" fill="url(#o1)"/><rect x="992.2" y="60.0" width="210.0" height="5" fill="url(#o2)"/><rect x="990.2" y="65.0" width="256.0" height="5" fill="url(#o3)"/><rect x="988.2" y="70.0" width="302.0" height="5" fill="url(#o4)"/><rect x="988.2" y="75.0" width="344.0" height="5" fill="url(#o5)"/><rect x="986.2" y="80.0" width="390.0" height="5" fill="url(#o6)"/><rect x="986.2" y="85.0" width="434.0" height="5" fill="url(#o7)"/><rect x="986.2" y="90.0" width="476.0" height="5" fill="url(#o8)"/><rect x="988.2" y="95.0" width="518.0" height="5" fill="url(#o9)"/><rect x="988.2" y="100.0" width="562.0" height="5" fill="url(#o10)"/><rect x="988.2" y="105.0" width="606.0" height="5" fill="url(#o11)"/><rect x="986.2" y="110.0" width="624.0" height="5" fill="url(#o12)"/><rect x="986.2" y="115.0" width="624.0" height="5" fill="url(#o13)"/><rect x="986.2" y="120.0" width="624.0" height="5" fill="url(#o14)"/><rect x="986.2" y="125.0" width="624.0" height="5" fill="url(#o15)"/><rect x="986.2" y="130.0" width="624.0" height="5" fill="url(#o16)"/><rect x="986.2" y="135.0" width="624.0" height="5" fill="url(#o17)"/><rect x="986.2" y="140.0" width="624.0" height="5" fill="url(#o18)"/><rect x="998.2" y="145.0" width="608.0" height="5" fill="url(#o19)"/><rect x="1000.2" y="150.0" width="602.0" height="5" fill="url(#o20)"/><rect x="1002.2" y="155.0" width="594.0" height="5" fill="url(#o21)"/><rect x="1004.2" y="160.0" width="588.0" height="5" fill="url(#o22)"/><rect x="1004.2" y="165.0" width="584.0" height="5" fill="url(#o23)"/><rect x="1006.2" y="170.0" width="576.0" height="5" fill="url(#o24)"/><rect x="1008.2" y="175.0" width="570.0" height="5" fill="url(#o25)"/><rect x="1010.2" y="180.0" width="562.0" height="5" fill="url(#o26)"/><rect x="1012.2" y="185.0" width="556.0" height="5" fill="url(#o27)"/><rect x="1014.2" y="190.0" width="548.0" height="5" fill="url(#o28)"/><rect x="1016.2" y="195.0" width="542.0" height="5" fill="url(#o29)"/><rect x="1018.2" y="200.0" width="536.0" height="5" fill="url(#o30)"/><rect x="1020.2" y="205.0" width="528.0" height="5" fill="url(#o31)"/><rect x="1022.2" y="210.0" width="522.0" height="5" fill="url(#o32)"/><rect x="1026.2" y="215.0" width="512.0" height="5" fill="url(#o33)"/><rect x="1028.2" y="220.0" width="506.0" height="5" fill="url(#o34)"/><rect x="1030.2" y="225.0" width="498.0" height="5" fill="url(#o35)"/><rect x="1032.2" y="230.0" width="492.0" height="5" fill="url(#o36)"/><rect x="1034.2" y="235.0" width="486.0" height="5" fill="url(#o37)"/><rect x="1036.2" y="240.0" width="478.0" height="5" fill="url(#o38)"/><rect x="1038.2" y="245.0" width="472.0" height="5" fill="url(#o39)"/><rect x="1042.2" y="250.0" width="462.0" height="5" fill="url(#o40)"/><rect x="1044.2" y="255.0" width="456.0" height="5" fill="url(#o41)"/><rect x="1048.2" y="260.0" width="446.0" height="5" fill="url(#o42)"/><rect x="1050.2" y="265.0" width="440.0" height="5" fill="url(#o43)"/><rect x="1052.2" y="270.0" width="434.0" height="5" fill="url(#o44)"/><rect x="1056.2" y="275.0" width="424.0" height="5" fill="url(#o45)"/><rect x="1058.2" y="280.0" width="418.0" height="5" fill="url(#o46)"/><rect x="1060.2" y="285.0" width="410.0" height="5" fill="url(#o47)"/><rect x="1064.2" y="290.0" width="402.0" height="5" fill="url(#o48)"/><rect x="1066.2" y="295.0" width="394.0" height="5" fill="url(#o49)"/><rect x="1070.2" y="300.0" width="386.0" height="5" fill="url(#o50)"/><rect x="1072.2" y="305.0" width="380.0" height="5" fill="url(#o51)"/><rect x="1076.2" y="310.0" width="370.0" height="5" fill="url(#o52)"/><rect x="1078.2" y="315.0" width="364.0" height="5" fill="url(#o53)"/><rect x="1082.2" y="320.0" width="354.0" height="5" fill="url(#o54)"/><rect x="1084.2" y="325.0" width="348.0" height="5" fill="url(#o55)"/><rect x="1088.2" y="330.0" width="338.0" height="5" fill="url(#o56)"/><rect x="1090.2" y="335.0" width="332.0" height="5" fill="url(#o57)"/><rect x="1094.2" y="340.0" width="324.0" height="5" fill="url(#o58)"/><rect x="1098.2" y="345.0" width="314.0" height="5" fill="url(#o59)"/><rect x="1100.2" y="350.0" width="308.0" height="5" fill="url(#o60)"/><rect x="1104.2" y="355.0" width="298.0" height="5" fill="url(#o61)"/><rect x="1106.2" y="360.0" width="292.0" height="5" fill="url(#o62)"/><rect x="1110.2" y="365.0" width="282.0" height="5" fill="url(#o63)"/><rect x="1114.2" y="370.0" width="274.0" height="5" fill="url(#o64)"/><rect x="1118.2" y="375.0" width="266.0" height="5" fill="url(#o65)"/><rect x="1122.2" y="380.0" width="256.0" height="5" fill="url(#o66)"/><rect x="1124.2" y="385.0" width="250.0" height="5" fill="url(#o67)"/><rect x="1128.2" y="390.0" width="240.0" height="5" fill="url(#o68)"/><rect x="1132.2" y="395.0" width="232.0" height="5" fill="url(#o69)"/><rect x="1136.2" y="400.0" width="222.0" height="5" fill="url(#o70)"/><rect x="1140.2" y="405.0" width="214.0" height="5" fill="url(#o71)"/><rect x="1144.2" y="410.0" width="206.0" height="5" fill="url(#o72)"/><rect x="1148.2" y="415.0" width="196.0" height="5" fill="url(#o73)"/><rect x="1152.2" y="420.0" width="188.0" height="5" fill="url(#o74)"/><rect x="1156.2" y="425.0" width="178.0" height="5" fill="url(#o75)"/><rect x="1160.2" y="430.0" width="170.0" height="5" fill="url(#o76)"/><rect x="1166.2" y="435.0" width="158.0" height="5" fill="url(#o77)"/><rect x="1170.2" y="440.0" width="150.0" height="5" fill="url(#o78)"/><rect x="1176.2" y="445.0" width="140.0" height="5" fill="url(#o79)"/><rect x="1180.2" y="450.0" width="130.0" height="5" fill="url(#o80)"/><rect x="1186.2" y="455.0" width="120.0" height="5" fill="url(#o81)"/><rect x="1192.2" y="460.0" width="108.0" height="5" fill="url(#o82)"/><rect x="1196.2" y="465.0" width="100.0" height="5" fill="url(#o83)"/><rect x="1202.2" y="470.0" width="88.0" height="5" fill="url(#o84)"/><rect x="1208.2" y="475.0" width="78.0" height="5" fill="url(#o85)"/><rect x="1214.2" y="480.0" width="68.0" height="5" fill="url(#o86)"/><rect x="1222.2" y="485.0" width="54.0" height="5" fill="url(#o87)"/><rect x="1228.2" y="490.0" width="44.0" height="5" fill="url(#o88)"/><rect x="1232.2" y="495.0" width="34.0" height="5" fill="url(#o89)"/><rect x="1240.2" y="500.0" width="22.0" height="5" fill="url(#o90)"/><rect x="1246.2" y="505.0" width="10.0" height="5" fill="url(#o91)"/></g></g>
<g clip-path="url(#tri)"><g filter="url(#vb2)"><rect x="1114.5" y="69.0" width="24.0" height="3" fill="url(#i0)"/><rect x="1114.5" y="72.0" width="56.0" height="3" fill="url(#i1)"/><rect x="1114.5" y="75.0" width="88.0" height="3" fill="url(#i2)"/><rect x="1116.5" y="78.0" width="118.0" height="3" fill="url(#i3)"/><rect x="1116.5" y="81.0" width="150.0" height="3" fill="url(#i4)"/><rect x="1116.5" y="84.0" width="182.0" height="3" fill="url(#i5)"/><rect x="1116.5" y="87.0" width="214.0" height="3" fill="url(#i6)"/><rect x="1118.5" y="90.0" width="244.0" height="3" fill="url(#i7)"/><rect x="1118.5" y="93.0" width="276.0" height="3" fill="url(#i8)"/><rect x="1118.5" y="96.0" width="308.0" height="3" fill="url(#i9)"/><rect x="1118.5" y="99.0" width="338.0" height="3" fill="url(#i10)"/><rect x="1120.5" y="102.0" width="336.0" height="3" fill="url(#i11)"/><rect x="1120.5" y="105.0" width="334.0" height="3" fill="url(#i12)"/><rect x="1120.5" y="108.0" width="330.0" height="3" fill="url(#i13)"/><rect x="1120.5" y="111.0" width="328.0" height="3" fill="url(#i14)"/><rect x="1122.5" y="114.0" width="322.0" height="3" fill="url(#i15)"/><rect x="1122.5" y="117.0" width="320.0" height="3" fill="url(#i16)"/><rect x="1122.5" y="120.0" width="318.0" height="3" fill="url(#i17)"/><rect x="1122.5" y="123.0" width="314.0" height="3" fill="url(#i18)"/><rect x="1124.5" y="126.0" width="310.0" height="3" fill="url(#i19)"/><rect x="1124.5" y="129.0" width="306.0" height="3" fill="url(#i20)"/><rect x="1124.5" y="132.0" width="304.0" height="3" fill="url(#i21)"/><rect x="1124.5" y="135.0" width="300.0" height="3" fill="url(#i22)"/><rect x="1124.5" y="138.0" width="298.0" height="3" fill="url(#i23)"/><rect x="1126.5" y="141.0" width="292.0" height="3" fill="url(#i24)"/><rect x="1126.5" y="144.0" width="290.0" height="3" fill="url(#i25)"/><rect x="1126.5" y="147.0" width="286.0" height="3" fill="url(#i26)"/><rect x="1126.5" y="150.0" width="284.0" height="3" fill="url(#i27)"/><rect x="1128.5" y="153.0" width="278.0" height="3" fill="url(#i28)"/><rect x="1128.5" y="156.0" width="276.0" height="3" fill="url(#i29)"/><rect x="1128.5" y="159.0" width="272.0" height="3" fill="url(#i30)"/><rect x="1128.5" y="162.0" width="270.0" height="3" fill="url(#i31)"/><rect x="1130.5" y="165.0" width="264.0" height="3" fill="url(#i32)"/><rect x="1130.5" y="168.0" width="262.0" height="3" fill="url(#i33)"/><rect x="1130.5" y="171.0" width="260.0" height="3" fill="url(#i34)"/><rect x="1130.5" y="174.0" width="256.0" height="3" fill="url(#i35)"/><rect x="1132.5" y="177.0" width="252.0" height="3" fill="url(#i36)"/><rect x="1132.5" y="180.0" width="248.0" height="3" fill="url(#i37)"/><rect x="1132.5" y="183.0" width="246.0" height="3" fill="url(#i38)"/><rect x="1132.5" y="186.0" width="242.0" height="3" fill="url(#i39)"/><rect x="1134.5" y="189.0" width="238.0" height="3" fill="url(#i40)"/><rect x="1134.5" y="192.0" width="234.0" height="3" fill="url(#i41)"/><rect x="1134.5" y="195.0" width="232.0" height="3" fill="url(#i42)"/><rect x="1134.5" y="198.0" width="228.0" height="3" fill="url(#i43)"/><rect x="1136.5" y="201.0" width="224.0" height="3" fill="url(#i44)"/><rect x="1136.5" y="204.0" width="220.0" height="3" fill="url(#i45)"/><rect x="1136.5" y="207.0" width="218.0" height="3" fill="url(#i46)"/><rect x="1136.5" y="210.0" width="214.0" height="3" fill="url(#i47)"/><rect x="1138.5" y="213.0" width="210.0" height="3" fill="url(#i48)"/><rect x="1138.5" y="216.0" width="208.0" height="3" fill="url(#i49)"/><rect x="1138.5" y="219.0" width="204.0" height="3" fill="url(#i50)"/><rect x="1138.5" y="222.0" width="202.0" height="3" fill="url(#i51)"/><rect x="1140.5" y="225.0" width="196.0" height="3" fill="url(#i52)"/><rect x="1140.5" y="228.0" width="194.0" height="3" fill="url(#i53)"/><rect x="1140.5" y="231.0" width="190.0" height="3" fill="url(#i54)"/><rect x="1140.5" y="234.0" width="188.0" height="3" fill="url(#i55)"/><rect x="1140.5" y="237.0" width="184.0" height="3" fill="url(#i56)"/><rect x="1142.5" y="240.0" width="180.0" height="3" fill="url(#i57)"/><rect x="1142.5" y="243.0" width="176.0" height="3" fill="url(#i58)"/><rect x="1142.5" y="246.0" width="174.0" height="3" fill="url(#i59)"/><rect x="1142.5" y="249.0" width="170.0" height="3" fill="url(#i60)"/><rect x="1144.5" y="252.0" width="166.0" height="3" fill="url(#i61)"/><rect x="1144.5" y="255.0" width="162.0" height="3" fill="url(#i62)"/><rect x="1144.5" y="258.0" width="160.0" height="3" fill="url(#i63)"/><rect x="1144.5" y="261.0" width="158.0" height="3" fill="url(#i64)"/><rect x="1146.5" y="264.0" width="152.0" height="3" fill="url(#i65)"/><rect x="1146.5" y="267.0" width="150.0" height="3" fill="url(#i66)"/><rect x="1146.5" y="270.0" width="146.0" height="3" fill="url(#i67)"/><rect x="1146.5" y="273.0" width="144.0" height="3" fill="url(#i68)"/><rect x="1148.5" y="276.0" width="138.0" height="3" fill="url(#i69)"/><rect x="1148.5" y="279.0" width="136.0" height="3" fill="url(#i70)"/><rect x="1148.5" y="282.0" width="132.0" height="3" fill="url(#i71)"/><rect x="1148.5" y="285.0" width="130.0" height="3" fill="url(#i72)"/><rect x="1150.5" y="288.0" width="124.0" height="3" fill="url(#i73)"/><rect x="1150.5" y="291.0" width="122.0" height="3" fill="url(#i74)"/><rect x="1150.5" y="294.0" width="118.0" height="3" fill="url(#i75)"/><rect x="1150.5" y="297.0" width="116.0" height="3" fill="url(#i76)"/><rect x="1152.5" y="300.0" width="110.0" height="3" fill="url(#i77)"/><rect x="1152.5" y="303.0" width="108.0" height="3" fill="url(#i78)"/><rect x="1152.5" y="306.0" width="104.0" height="3" fill="url(#i79)"/><rect x="1152.5" y="309.0" width="102.0" height="3" fill="url(#i80)"/><rect x="1154.5" y="312.0" width="98.0" height="3" fill="url(#i81)"/><rect x="1154.5" y="315.0" width="94.0" height="3" fill="url(#i82)"/><rect x="1154.5" y="318.0" width="92.0" height="3" fill="url(#i83)"/><rect x="1154.5" y="321.0" width="88.0" height="3" fill="url(#i84)"/><rect x="1156.5" y="324.0" width="84.0" height="3" fill="url(#i85)"/><rect x="1156.5" y="327.0" width="80.0" height="3" fill="url(#i86)"/><rect x="1156.5" y="330.0" width="78.0" height="3" fill="url(#i87)"/><rect x="1156.5" y="333.0" width="74.0" height="3" fill="url(#i88)"/><rect x="1158.5" y="336.0" width="70.0" height="3" fill="url(#i89)"/><rect x="1158.5" y="339.0" width="66.0" height="3" fill="url(#i90)"/><rect x="1158.5" y="342.0" width="64.0" height="3" fill="url(#i91)"/><rect x="1158.5" y="345.0" width="60.0" height="3" fill="url(#i92)"/><rect x="1158.5" y="348.0" width="58.0" height="3" fill="url(#i93)"/><rect x="1160.5" y="351.0" width="52.0" height="3" fill="url(#i94)"/><rect x="1160.5" y="354.0" width="50.0" height="3" fill="url(#i95)"/><rect x="1160.5" y="357.0" width="48.0" height="3" fill="url(#i96)"/><rect x="1160.5" y="360.0" width="44.0" height="3" fill="url(#i97)"/><rect x="1162.5" y="363.0" width="40.0" height="3" fill="url(#i98)"/><rect x="1162.5" y="366.0" width="36.0" height="3" fill="url(#i99)"/><rect x="1162.5" y="369.0" width="34.0" height="3" fill="url(#i100)"/><rect x="1162.5" y="372.0" width="30.0" height="3" fill="url(#i101)"/><rect x="1164.5" y="375.0" width="26.0" height="3" fill="url(#i102)"/><rect x="1164.5" y="378.0" width="22.0" height="3" fill="url(#i103)"/><rect x="1164.5" y="381.0" width="20.0" height="3" fill="url(#i104)"/><rect x="1164.5" y="384.0" width="16.0" height="3" fill="url(#i105)"/><rect x="1166.5" y="387.0" width="12.0" height="3" fill="url(#i106)"/><rect x="1166.5" y="390.0" width="8.0" height="3" fill="url(#i107)"/></g></g></g>
<rect x="988.2" y="40.4" width="620.5" height="478.0" fill="none" stroke="#9c9c9c" stroke-width="1.3"/>
<line x1="988.2" y1="518.4" x2="988.2" y2="523.4" stroke="#9c9c9c" stroke-width="1.3"/>
<text x="988.2" y="538.8" font-size="13.5" fill="#dedede" stroke="#dedede" stroke-width="0.22" text-anchor="middle">0</text>
<line x1="982.2" y1="518.4" x2="988.2" y2="518.4" stroke="#9c9c9c" stroke-width="1.3"/>
<text x="981.2" y="523.2" font-size="13.5" fill="#dedede" stroke="#dedede" stroke-width="0.22" text-anchor="end">0</text>
<line x1="1039.9" y1="518.4" x2="1039.9" y2="523.4" stroke="#9c9c9c" stroke-width="1.3"/>
<text x="1039.9" y="538.8" font-size="13.5" fill="#dedede" stroke="#dedede" stroke-width="0.22" text-anchor="middle">0,05</text>
<line x1="982.2" y1="478.6" x2="988.2" y2="478.6" stroke="#9c9c9c" stroke-width="1.3"/>
<text x="981.2" y="483.4" font-size="13.5" fill="#dedede" stroke="#dedede" stroke-width="0.22" text-anchor="end">0,05</text>
<line x1="1091.6" y1="518.4" x2="1091.6" y2="523.4" stroke="#9c9c9c" stroke-width="1.3"/>
<text x="1091.6" y="538.8" font-size="13.5" fill="#dedede" stroke="#dedede" stroke-width="0.22" text-anchor="middle">0,1</text>
<line x1="982.2" y1="438.7" x2="988.2" y2="438.7" stroke="#9c9c9c" stroke-width="1.3"/>
<text x="981.2" y="443.5" font-size="13.5" fill="#dedede" stroke="#dedede" stroke-width="0.22" text-anchor="end">0,1</text>
<line x1="1143.3" y1="518.4" x2="1143.3" y2="523.4" stroke="#9c9c9c" stroke-width="1.3"/>
<text x="1143.3" y="538.8" font-size="13.5" fill="#dedede" stroke="#dedede" stroke-width="0.22" text-anchor="middle">0,15</text>
<line x1="982.2" y1="398.9" x2="988.2" y2="398.9" stroke="#9c9c9c" stroke-width="1.3"/>
<text x="981.2" y="403.7" font-size="13.5" fill="#dedede" stroke="#dedede" stroke-width="0.22" text-anchor="end">0,15</text>
<line x1="1195.0" y1="518.4" x2="1195.0" y2="523.4" stroke="#9c9c9c" stroke-width="1.3"/>
<text x="1195.0" y="538.8" font-size="13.5" fill="#dedede" stroke="#dedede" stroke-width="0.22" text-anchor="middle">0,2</text>
<line x1="982.2" y1="359.1" x2="988.2" y2="359.1" stroke="#9c9c9c" stroke-width="1.3"/>
<text x="981.2" y="363.9" font-size="13.5" fill="#dedede" stroke="#dedede" stroke-width="0.22" text-anchor="end">0,2</text>
<line x1="1246.7" y1="518.4" x2="1246.7" y2="523.4" stroke="#9c9c9c" stroke-width="1.3"/>
<text x="1246.7" y="538.8" font-size="13.5" fill="#dedede" stroke="#dedede" stroke-width="0.22" text-anchor="middle">0,25</text>
<line x1="982.2" y1="319.2" x2="988.2" y2="319.2" stroke="#9c9c9c" stroke-width="1.3"/>
<text x="981.2" y="324.0" font-size="13.5" fill="#dedede" stroke="#dedede" stroke-width="0.22" text-anchor="end">0,25</text>
<line x1="1298.5" y1="518.4" x2="1298.5" y2="523.4" stroke="#9c9c9c" stroke-width="1.3"/>
<text x="1298.5" y="538.8" font-size="13.5" fill="#dedede" stroke="#dedede" stroke-width="0.22" text-anchor="middle">0,3</text>
<line x1="982.2" y1="279.4" x2="988.2" y2="279.4" stroke="#9c9c9c" stroke-width="1.3"/>
<text x="981.2" y="284.2" font-size="13.5" fill="#dedede" stroke="#dedede" stroke-width="0.22" text-anchor="end">0,3</text>
<line x1="1350.2" y1="518.4" x2="1350.2" y2="523.4" stroke="#9c9c9c" stroke-width="1.3"/>
<text x="1350.2" y="538.8" font-size="13.5" fill="#dedede" stroke="#dedede" stroke-width="0.22" text-anchor="middle">0,35</text>
<line x1="982.2" y1="239.6" x2="988.2" y2="239.6" stroke="#9c9c9c" stroke-width="1.3"/>
<text x="981.2" y="244.4" font-size="13.5" fill="#dedede" stroke="#dedede" stroke-width="0.22" text-anchor="end">0,35</text>
<line x1="1401.9" y1="518.4" x2="1401.9" y2="523.4" stroke="#9c9c9c" stroke-width="1.3"/>
<text x="1401.9" y="538.8" font-size="13.5" fill="#dedede" stroke="#dedede" stroke-width="0.22" text-anchor="middle">0,4</text>
<line x1="982.2" y1="199.7" x2="988.2" y2="199.7" stroke="#9c9c9c" stroke-width="1.3"/>
<text x="981.2" y="204.5" font-size="13.5" fill="#dedede" stroke="#dedede" stroke-width="0.22" text-anchor="end">0,4</text>
<line x1="1453.6" y1="518.4" x2="1453.6" y2="523.4" stroke="#9c9c9c" stroke-width="1.3"/>
<text x="1453.6" y="538.8" font-size="13.5" fill="#dedede" stroke="#dedede" stroke-width="0.22" text-anchor="middle">0,45</text>
<line x1="982.2" y1="159.9" x2="988.2" y2="159.9" stroke="#9c9c9c" stroke-width="1.3"/>
<text x="981.2" y="164.7" font-size="13.5" fill="#dedede" stroke="#dedede" stroke-width="0.22" text-anchor="end">0,45</text>
<line x1="1505.3" y1="518.4" x2="1505.3" y2="523.4" stroke="#9c9c9c" stroke-width="1.3"/>
<text x="1505.3" y="538.8" font-size="13.5" fill="#dedede" stroke="#dedede" stroke-width="0.22" text-anchor="middle">0,5</text>
<line x1="982.2" y1="120.1" x2="988.2" y2="120.1" stroke="#9c9c9c" stroke-width="1.3"/>
<text x="981.2" y="124.9" font-size="13.5" fill="#dedede" stroke="#dedede" stroke-width="0.22" text-anchor="end">0,5</text>
<line x1="1557.0" y1="518.4" x2="1557.0" y2="523.4" stroke="#9c9c9c" stroke-width="1.3"/>
<text x="1557.0" y="538.8" font-size="13.5" fill="#dedede" stroke="#dedede" stroke-width="0.22" text-anchor="middle">0,55</text>
<line x1="982.2" y1="80.2" x2="988.2" y2="80.2" stroke="#9c9c9c" stroke-width="1.3"/>
<text x="981.2" y="85.0" font-size="13.5" fill="#dedede" stroke="#dedede" stroke-width="0.22" text-anchor="end">0,55</text>
<rect x="1109.5" y="62.5" width="13" height="13" fill="none" stroke="#f4f0ec" stroke-opacity=".9" stroke-width="1.6"/>
<rect x="1129.5" y="82.5" width="13" height="13" fill="none" stroke="#f4f0ec" stroke-opacity=".9" stroke-width="1.6"/>
<rect x="1170.5" y="76.0" width="13" height="13" fill="none" stroke="#f4f0ec" stroke-opacity=".9" stroke-width="1.6"/>
<rect x="1168.6" y="96.5" width="13" height="13" fill="none" stroke="#f4f0ec" stroke-opacity=".9" stroke-width="1.6"/>
<rect x="1192.6" y="71.4" width="13" height="13" fill="none" stroke="#f4f0ec" stroke-opacity=".9" stroke-width="1.6"/>
<rect x="1221.2" y="77.6" width="13" height="13" fill="none" stroke="#f4f0ec" stroke-opacity=".9" stroke-width="1.6"/>
<rect x="1253.7" y="80.2" width="13" height="13" fill="none" stroke="#f4f0ec" stroke-opacity=".9" stroke-width="1.6"/>
<rect x="1301.1" y="85.2" width="13" height="13" fill="none" stroke="#f4f0ec" stroke-opacity=".9" stroke-width="1.6"/>
<rect x="1388.5" y="109.0" width="13" height="13" fill="none" stroke="#f4f0ec" stroke-opacity=".9" stroke-width="1.6"/>
<rect x="1446.5" y="94.5" width="13" height="13" fill="none" stroke="#f4f0ec" stroke-opacity=".9" stroke-width="1.6"/>
<rect x="1323.9" y="124.9" width="13" height="13" fill="none" stroke="#f4f0ec" stroke-opacity=".9" stroke-width="1.6"/>
<rect x="1124.7" y="149.0" width="13" height="13" fill="none" stroke="#f4f0ec" stroke-opacity=".9" stroke-width="1.6"/>
<rect x="1138.7" y="131.5" width="13" height="13" fill="none" stroke="#f4f0ec" stroke-opacity=".9" stroke-width="1.6"/>
<rect x="1288.5" y="173.9" width="13" height="13" fill="none" stroke="#f4f0ec" stroke-opacity=".9" stroke-width="1.6"/>
<rect x="1129.9" y="181.9" width="13" height="13" fill="none" stroke="#f4f0ec" stroke-opacity=".9" stroke-width="1.6"/>
<rect x="1161.4" y="181.3" width="13" height="13" fill="none" stroke="#f4f0ec" stroke-opacity=".9" stroke-width="1.6"/>
<rect x="1183.6" y="186.6" width="13" height="13" fill="none" stroke="#f4f0ec" stroke-opacity=".9" stroke-width="1.6"/>
<rect x="1221.1" y="207.9" width="13" height="13" fill="none" stroke="#f4f0ec" stroke-opacity=".9" stroke-width="1.6"/>
<rect x="1164.2" y="241.3" width="13" height="13" fill="none" stroke="#f4f0ec" stroke-opacity=".9" stroke-width="1.6"/>
<rect x="1297.1" y="249.2" width="13" height="13" fill="none" stroke="#f4f0ec" stroke-opacity=".9" stroke-width="1.6"/>
<rect x="1163.9" y="295.5" width="13" height="13" fill="none" stroke="#f4f0ec" stroke-opacity=".9" stroke-width="1.6"/>
<rect x="1162.9" y="384.9" width="13" height="13" fill="none" stroke="#f4f0ec" stroke-opacity=".9" stroke-width="1.6"/>
<rect x="1278.0" y="88.1" width="13" height="13" fill="none" stroke="#f4f0ec" stroke-opacity=".9" stroke-width="1.6"/>
<rect x="1289.9" y="94.0" width="13" height="13" fill="none" stroke="#f4f0ec" stroke-opacity=".9" stroke-width="1.6"/>
<rect x="1273.8" y="102.3" width="13" height="13" fill="none" stroke="#f4f0ec" stroke-opacity=".9" stroke-width="1.6"/>
<rect x="1273.5" y="104.9" width="13" height="13" fill="none" stroke="#f4f0ec" stroke-opacity=".9" stroke-width="1.6"/>
<rect x="1248.5" y="97.8" width="13" height="13" fill="none" stroke="#f4f0ec" stroke-opacity=".9" stroke-width="1.6"/>
<rect x="1260.8" y="105.6" width="13" height="13" fill="none" stroke="#f4f0ec" stroke-opacity=".9" stroke-width="1.6"/>
<rect x="1225.7" y="106.7" width="13" height="13" fill="none" stroke="#f4f0ec" stroke-opacity=".9" stroke-width="1.6"/>
<rect x="1242.1" y="108.6" width="13" height="13" fill="none" stroke="#f4f0ec" stroke-opacity=".9" stroke-width="1.6"/>
<rect x="1225.7" y="120.2" width="13" height="13" fill="none" stroke="#f4f0ec" stroke-opacity=".9" stroke-width="1.6"/>
<rect x="1267.5" y="85.5" width="13" height="13" fill="none" stroke="#f4f0ec" stroke-opacity=".9" stroke-width="1.6"/>
<rect x="1300.0" y="83.2" width="13" height="13" fill="none" stroke="#f4f0ec" stroke-opacity=".9" stroke-width="1.6"/>
<rect x="1307.1" y="85.1" width="13" height="13" fill="none" stroke="#f4f0ec" stroke-opacity=".9" stroke-width="1.6"/>
<rect x="1243.5" y="111.9" width="13" height="13" fill="none" stroke="#f4f0ec" stroke-opacity=".9" stroke-width="1.6"/>
<rect x="1255.5" y="103.5" width="13" height="13" fill="none" stroke="#f4f0ec" stroke-opacity=".9" stroke-width="1.6"/>
<rect x="1233.5" y="113.5" width="13" height="13" fill="none" stroke="#f4f0ec" stroke-opacity=".9" stroke-width="1.6"/>
<rect x="1186.3" y="138.8" width="13" height="13" fill="#fff" stroke="#000" stroke-width="2"/>
<circle cx="1305.4" cy="266.4" r="3.8" fill="#f030f0"/>
<circle cx="1177" cy="392" r="3.8" fill="#2828e8"/>
<circle cx="1111.5" cy="66.5" r="4.3" fill="#38e038" stroke="#111" stroke-width="1.1"/>
<circle cx="1128.5" cy="86.0" r="4.3" fill="#5e7e58" stroke="#111" stroke-width="1.1"/>
<circle cx="1170.5" cy="81.5" r="4.3" fill="#a8aa66" stroke="#111" stroke-width="1.1"/>
<circle cx="1168.2" cy="101.3" r="4.3" fill="#5a6a4c" stroke="#111" stroke-width="1.1"/>
<circle cx="1189.5" cy="74.5" r="4.3" fill="#f0e838" stroke="#111" stroke-width="1.1"/>
<circle cx="1217.0" cy="79.5" r="4.3" fill="#d8c048" stroke="#111" stroke-width="1.1"/>
<circle cx="1248.5" cy="85.2" r="4.3" fill="#d0a848" stroke="#111" stroke-width="1.1"/>
<circle cx="1296.4" cy="92.1" r="4.3" fill="#c08850" stroke="#111" stroke-width="1.1"/>
<circle cx="1400.5" cy="122.5" r="4.3" fill="#a05050" stroke="#111" stroke-width="1.1"/>
<circle cx="1473.0" cy="103.5" r="4.3" fill="#e82020" stroke="#111" stroke-width="1.1"/>
<circle cx="1325.4" cy="135.4" r="4.3" fill="#b86878" stroke="#111" stroke-width="1.1"/>
<circle cx="1128.6" cy="155.6" r="4.3" fill="#30e0f0" stroke="#111" stroke-width="1.1"/>
<circle cx="1142.4" cy="139.2" r="4.3" fill="#78b0a0" stroke="#111" stroke-width="1.1"/>
<circle cx="1288.6" cy="189.6" r="4.3" fill="#b86898" stroke="#111" stroke-width="1.1"/>
<circle cx="1131.0" cy="187.0" r="4.3" fill="#2880a0" stroke="#111" stroke-width="1.1"/>
<circle cx="1164.1" cy="187.6" r="4.3" fill="#6a80a8" stroke="#111" stroke-width="1.1"/>
<circle cx="1185.8" cy="193.5" r="4.3" fill="#8a88b0" stroke="#111" stroke-width="1.1"/>
<circle cx="1228.4" cy="221.4" r="4.3" fill="#6a4a78" stroke="#111" stroke-width="1.1"/>
<circle cx="1168.1" cy="249.4" r="4.3" fill="#5a68a8" stroke="#111" stroke-width="1.1"/>
<circle cx="1170.4" cy="308.4" r="4.3" fill="#484c88" stroke="#111" stroke-width="1.1"/>
<circle cx="1268.4" cy="99.0" r="4.3" fill="#6e4e3e" stroke="#111" stroke-width="1.1"/>
<circle cx="1283.0" cy="98.3" r="4.3" fill="#6a4a3a" stroke="#111" stroke-width="1.1"/>
<circle cx="1309.5" cy="93.4" r="4.3" fill="#8e6646" stroke="#111" stroke-width="1.1"/>
<circle cx="1297.5" cy="103.2" r="4.3" fill="#6a4434" stroke="#111" stroke-width="1.1"/>
<circle cx="1241.9" cy="103.2" r="4.3" fill="#b89272" stroke="#111" stroke-width="1.1"/>
<circle cx="1257.6" cy="106.1" r="4.3" fill="#c49474" stroke="#111" stroke-width="1.1"/>
<circle cx="1267.3" cy="107.3" r="4.3" fill="#c8987e" stroke="#111" stroke-width="1.1"/>
<circle cx="1252.7" cy="114.4" r="4.3" fill="#c89272" stroke="#111" stroke-width="1.1"/>
<circle cx="1241.9" cy="110.6" r="4.3" fill="#b89070" stroke="#111" stroke-width="1.1"/>
<circle cx="1247.9" cy="110.6" r="4.3" fill="#a88270" stroke="#111" stroke-width="1.1"/>
<circle cx="1241.9" cy="115.1" r="4.3" fill="#b08272" stroke="#111" stroke-width="1.1"/>
<circle cx="1235.2" cy="112.9" r="4.3" fill="#c49484" stroke="#111" stroke-width="1.1"/>
<circle cx="1233.7" cy="115.1" r="4.3" fill="#a87466" stroke="#111" stroke-width="1.1"/>
<circle cx="1246.4" cy="118.8" r="4.3" fill="#6e5040" stroke="#111" stroke-width="1.1"/>
<circle cx="1265.4" cy="112.9" r="4.3" fill="#e4ae96" stroke="#111" stroke-width="1.1"/>
<circle cx="1220.2" cy="116.6" r="4.3" fill="#ecc4ac" stroke="#111" stroke-width="1.1"/>
<circle cx="1223.2" cy="127.0" r="4.3" fill="#c49484" stroke="#111" stroke-width="1.1"/>
<circle cx="1219.5" cy="126.3" r="4.3" fill="#ecc4ac" stroke="#111" stroke-width="1.1"/>
<circle cx="1187" cy="147.7" r="4.3" fill="#a0a0a0" stroke="#111" stroke-width="1.1"/>
<defs><linearGradient id="ins" x1="0" y1="0" x2="1" y2="1"><stop offset="0" stop-color="#ff7a26"/><stop offset="1" stop-color="#ff4a22"/></linearGradient></defs>
<rect x="1410.5" y="351" width="191.5" height="125" fill="url(#ins)" stroke="#8a8a8a" stroke-width="2"/>
<defs><clipPath id="insc"><rect x="1411.5" y="352" width="189.5" height="123"/></clipPath></defs><g clip-path="url(#insc)">
<rect x="1434.0" y="383.6" width="13" height="13" fill="none" stroke="#f8f0e8" stroke-width="1.6"/>
<rect x="1563.5" y="365.5" width="13" height="13" fill="none" stroke="#f8f0e8" stroke-width="1.6"/>
<rect x="1498.5" y="406.5" width="13" height="13" fill="none" stroke="#f8f0e8" stroke-width="1.6"/>
<rect x="1523.5" y="419.8" width="13" height="13" fill="none" stroke="#f8f0e8" stroke-width="1.6"/>
<rect x="1502.7" y="445.7" width="13" height="13" fill="none" stroke="#f8f0e8" stroke-width="1.6"/>
<rect x="1418.1" y="428.2" width="13" height="13" fill="none" stroke="#f8f0e8" stroke-width="1.6"/>
<rect x="1433.1" y="438.7" width="13" height="13" fill="none" stroke="#f8f0e8" stroke-width="1.6"/>
<rect x="1407.0" y="416.5" width="13" height="13" fill="none" stroke="#f8f0e8" stroke-width="1.6"/>
<circle cx="1534.3" cy="374.8" r="4.0" fill="#8a6a50" stroke="#111" stroke-width="1.1"/>
<circle cx="1450.2" cy="401.2" r="4.0" fill="#c89070" stroke="#111" stroke-width="1.1"/>
<circle cx="1478.0" cy="418.5" r="4.0" fill="#c89070" stroke="#111" stroke-width="1.1"/>
<circle cx="1439.0" cy="451.4" r="4.0" fill="#e8b090" stroke="#111" stroke-width="1.1"/>
</g>
<rect x="1361.0" y="486.2" width="243.7" height="26.4" fill="#2d2d2d"/>
<text x="1362.0" y="506.5" font-size="19.2" textLength="216.0" lengthAdjust="spacingAndGlyphs" fill="#f0f0f0" stroke="#f0f0f0" stroke-width="0.45">RGB Triplet: 202, 136, 97</text>
<rect x="311.7" y="566.0" width="1305.3" height="220.0" fill="#000"/>
<defs><linearGradient id="hdr" x1="0" x2="0" y1="0" y2="1"><stop offset="0" stop-color="#333"/><stop offset=".45" stop-color="#2c2c2c"/><stop offset=".5" stop-color="#1c1c1c"/><stop offset="1" stop-color="#161616"/></linearGradient></defs>
<rect x="313.6" y="567.5" width="1303.4" height="24.0" fill="url(#hdr)"/>
<rect x="313.6" y="591.4" width="1303.4" height="22.6" fill="#444444"/>
<rect x="313.6" y="613.9" width="1303.4" height="22.6" fill="#878787"/>
<rect x="313.6" y="636.3" width="1303.4" height="22.6" fill="#444444"/>
<rect x="313.6" y="658.8" width="1303.4" height="22.6" fill="#878787"/>
<rect x="313.6" y="681.2" width="1303.4" height="22.6" fill="#444444"/>
<rect x="313.6" y="703.6" width="1303.4" height="22.6" fill="#878787"/>
<rect x="313.6" y="726.1" width="1303.4" height="22.6" fill="#444444"/>
<rect x="313.6" y="748.5" width="1303.4" height="22.6" fill="#878787"/>
<text x="512.5" y="584.0" font-size="13.6" textLength="47.5" lengthAdjust="spacingAndGlyphs" fill="#ececec" stroke="#ececec" stroke-width="0.22" text-anchor="middle">White</text>
<text x="597.5" y="584.0" font-size="13.6" textLength="61.0" lengthAdjust="spacingAndGlyphs" fill="#ececec" stroke="#ececec" stroke-width="0.22" text-anchor="middle">Gray 80</text>
<text x="683.0" y="584.0" font-size="13.6" textLength="61.0" lengthAdjust="spacingAndGlyphs" fill="#ececec" stroke="#ececec" stroke-width="0.22" text-anchor="middle">Gray 65</text>
<text x="768.5" y="584.0" font-size="13.6" textLength="61.0" lengthAdjust="spacingAndGlyphs" fill="#ececec" stroke="#ececec" stroke-width="0.22" text-anchor="middle">Gray 50</text>
<text x="854.0" y="584.0" font-size="13.6" textLength="61.0" lengthAdjust="spacingAndGlyphs" fill="#ececec" stroke="#ececec" stroke-width="0.22" text-anchor="middle">Gray 35</text>
<text x="937.5" y="584.0" font-size="13.6" textLength="72.5" lengthAdjust="spacingAndGlyphs" fill="#ececec" stroke="#ececec" stroke-width="0.22" text-anchor="middle">Dark Skin</text>
<text x="1021.0" y="584.0" font-size="13.6" textLength="74.1" lengthAdjust="spacingAndGlyphs" fill="#ececec" stroke="#ececec" stroke-width="0.22" text-anchor="middle">Light Skin</text>
<text x="1101.5" y="584.0" font-size="13.6" textLength="65.5" lengthAdjust="spacingAndGlyphs" fill="#ececec" stroke="#ececec" stroke-width="0.22" text-anchor="middle">Blue Sky</text>
<text x="1176.5" y="584.0" font-size="13.6" textLength="54.7" lengthAdjust="spacingAndGlyphs" fill="#ececec" stroke="#ececec" stroke-width="0.22" text-anchor="middle">Foliage</text>
<text x="1264.5" y="584.0" font-size="13.6" textLength="91.5" lengthAdjust="spacingAndGlyphs" fill="#ececec" stroke="#ececec" stroke-width="0.22" text-anchor="middle">Blue Flower</text>
<text x="1368.5" y="584.0" font-size="13.6" textLength="98.5" lengthAdjust="spacingAndGlyphs" fill="#ececec" stroke="#ececec" stroke-width="0.22" text-anchor="middle">Bluish Green</text>
<text x="1464.5" y="584.0" font-size="13.6" textLength="55.9" lengthAdjust="spacingAndGlyphs" fill="#ececec" stroke="#ececec" stroke-width="0.22" text-anchor="middle">Orange</text>
<text x="1562.0" y="584.0" font-size="13.6" textLength="101.1" lengthAdjust="spacingAndGlyphs" fill="#ececec" stroke="#ececec" stroke-width="0.22" text-anchor="middle">Purplish Blue</text>
<text x="327.0" y="607.8" font-size="13.8" textLength="69.5" lengthAdjust="spacingAndGlyphs" fill="#f0f0f0" font-weight="bold">x: CIE31</text>
<text x="327.0" y="630.2" font-size="13.8" textLength="69.0" lengthAdjust="spacingAndGlyphs" fill="#f0f0f0" font-weight="bold">y: CIE31</text>
<text x="327.0" y="652.7" font-size="13.8" textLength="12.0" lengthAdjust="spacingAndGlyphs" fill="#f0f0f0" font-weight="bold">Y</text>
<text x="327.0" y="675.1" font-size="13.8" textLength="114.5" lengthAdjust="spacingAndGlyphs" fill="#f0f0f0" font-weight="bold">Target x:CIE31</text>
<text x="327.0" y="697.6" font-size="13.8" textLength="114.5" lengthAdjust="spacingAndGlyphs" fill="#f0f0f0" font-weight="bold">Target y:CIE31</text>
<text x="327.0" y="720.0" font-size="13.8" textLength="73.7" lengthAdjust="spacingAndGlyphs" fill="#f0f0f0" font-weight="bold">Target Y</text>
<text x="327.0" y="742.5" font-size="13.8" textLength="73.0" lengthAdjust="spacingAndGlyphs" fill="#f0f0f0" font-weight="bold">ΔE 2000</text>
<text x="327.0" y="764.9" font-size="13.8" textLength="58.0" lengthAdjust="spacingAndGlyphs" fill="#f0f0f0" font-weight="bold">ΔE ITP</text>
<text x="474.0" y="607.8" font-size="13.8" textLength="54.5" lengthAdjust="spacingAndGlyphs" fill="#ececec" stroke="#ececec" stroke-width="0.22">0,3031</text>
<text x="559.0" y="607.8" font-size="13.8" textLength="54.5" lengthAdjust="spacingAndGlyphs" fill="#ececec" stroke="#ececec" stroke-width="0.22">0,3038</text>
<text x="644.0" y="607.8" font-size="13.8" textLength="54.5" lengthAdjust="spacingAndGlyphs" fill="#ececec" stroke="#ececec" stroke-width="0.22">0,3042</text>
<text x="730.0" y="607.8" font-size="13.8" textLength="54.5" lengthAdjust="spacingAndGlyphs" fill="#ececec" stroke="#ececec" stroke-width="0.22">0,3031</text>
<text x="815.0" y="607.8" font-size="13.8" textLength="54.5" lengthAdjust="spacingAndGlyphs" fill="#ececec" stroke="#ececec" stroke-width="0.22">0,3033</text>
<text x="901.0" y="607.8" font-size="13.8" textLength="54.5" lengthAdjust="spacingAndGlyphs" fill="#ececec" stroke="#ececec" stroke-width="0.22">0,4101</text>
<text x="982.0" y="607.8" font-size="13.8" textLength="54.5" lengthAdjust="spacingAndGlyphs" fill="#ececec" stroke="#ececec" stroke-width="0.22">0,3693</text>
<text x="1068.0" y="607.8" font-size="13.8" textLength="54.5" lengthAdjust="spacingAndGlyphs" fill="#ececec" stroke="#ececec" stroke-width="0.22">0,2401</text>
<text x="1143.0" y="607.8" font-size="13.8" textLength="54.5" lengthAdjust="spacingAndGlyphs" fill="#ececec" stroke="#ececec" stroke-width="0.22">0,3356</text>
<text x="1218.0" y="607.8" font-size="13.8" textLength="54.5" lengthAdjust="spacingAndGlyphs" fill="#ececec" stroke="#ececec" stroke-width="0.22">0,2597</text>
<text x="1319.0" y="607.8" font-size="13.8" textLength="54.5" lengthAdjust="spacingAndGlyphs" fill="#ececec" stroke="#ececec" stroke-width="0.22">0,2542</text>
<text x="1426.0" y="607.8" font-size="13.8" textLength="54.5" lengthAdjust="spacingAndGlyphs" fill="#ececec" stroke="#ececec" stroke-width="0.22">0,5131</text>
<text x="1511.0" y="607.8" font-size="13.8" textLength="54.5" lengthAdjust="spacingAndGlyphs" fill="#ececec" stroke="#ececec" stroke-width="0.22">0,2049</text>
<text x="474.0" y="630.2" font-size="13.8" textLength="54.5" lengthAdjust="spacingAndGlyphs" fill="#ececec" stroke="#ececec" stroke-width="0.22">0,3260</text>
<text x="559.0" y="630.2" font-size="13.8" textLength="54.5" lengthAdjust="spacingAndGlyphs" fill="#ececec" stroke="#ececec" stroke-width="0.22">0,3267</text>
<text x="644.0" y="630.2" font-size="13.8" textLength="54.5" lengthAdjust="spacingAndGlyphs" fill="#ececec" stroke="#ececec" stroke-width="0.22">0,3281</text>
<text x="730.0" y="630.2" font-size="13.8" textLength="54.5" lengthAdjust="spacingAndGlyphs" fill="#ececec" stroke="#ececec" stroke-width="0.22">0,3267</text>
<text x="815.0" y="630.2" font-size="13.8" textLength="54.5" lengthAdjust="spacingAndGlyphs" fill="#ececec" stroke="#ececec" stroke-width="0.22">0,3277</text>
<text x="901.0" y="630.2" font-size="13.8" textLength="54.5" lengthAdjust="spacingAndGlyphs" fill="#ececec" stroke="#ececec" stroke-width="0.22">0,3658</text>
<text x="982.0" y="630.2" font-size="13.8" textLength="54.5" lengthAdjust="spacingAndGlyphs" fill="#ececec" stroke="#ececec" stroke-width="0.22">0,3547</text>
<text x="1068.0" y="630.2" font-size="13.8" textLength="54.5" lengthAdjust="spacingAndGlyphs" fill="#ececec" stroke="#ececec" stroke-width="0.22">0,2605</text>
<text x="1143.0" y="630.2" font-size="13.8" textLength="54.5" lengthAdjust="spacingAndGlyphs" fill="#ececec" stroke="#ececec" stroke-width="0.22">0,4486</text>
<text x="1218.0" y="630.2" font-size="13.8" textLength="54.5" lengthAdjust="spacingAndGlyphs" fill="#ececec" stroke="#ececec" stroke-width="0.22">0,2464</text>
<text x="1319.0" y="630.2" font-size="13.8" textLength="54.5" lengthAdjust="spacingAndGlyphs" fill="#ececec" stroke="#ececec" stroke-width="0.22">0,3606</text>
<text x="1426.0" y="630.2" font-size="13.8" textLength="54.5" lengthAdjust="spacingAndGlyphs" fill="#ececec" stroke="#ececec" stroke-width="0.22">0,4094</text>
<text x="1511.0" y="630.2" font-size="13.8" textLength="54.5" lengthAdjust="spacingAndGlyphs" fill="#ececec" stroke="#ececec" stroke-width="0.22">0,1768</text>
<text x="474.0" y="652.7" font-size="13.8" textLength="74.9" lengthAdjust="spacingAndGlyphs" fill="#ececec" stroke="#ececec" stroke-width="0.22">446,4101</text>
<text x="559.0" y="652.7" font-size="13.8" textLength="74.9" lengthAdjust="spacingAndGlyphs" fill="#ececec" stroke="#ececec" stroke-width="0.22">351,2983</text>
<text x="644.0" y="652.7" font-size="13.8" textLength="74.9" lengthAdjust="spacingAndGlyphs" fill="#ececec" stroke="#ececec" stroke-width="0.22">289,4786</text>
<text x="730.0" y="652.7" font-size="13.8" textLength="74.9" lengthAdjust="spacingAndGlyphs" fill="#ececec" stroke="#ececec" stroke-width="0.22">215,6332</text>
<text x="815.0" y="652.7" font-size="13.8" textLength="74.9" lengthAdjust="spacingAndGlyphs" fill="#ececec" stroke="#ececec" stroke-width="0.22">140,2394</text>
<text x="901.0" y="652.7" font-size="13.8" textLength="64.7" lengthAdjust="spacingAndGlyphs" fill="#ececec" stroke="#ececec" stroke-width="0.22">30,8560</text>
<text x="982.0" y="652.7" font-size="13.8" textLength="74.9" lengthAdjust="spacingAndGlyphs" fill="#ececec" stroke="#ececec" stroke-width="0.22">150,4943</text>
<text x="1068.0" y="652.7" font-size="13.8" textLength="64.7" lengthAdjust="spacingAndGlyphs" fill="#ececec" stroke="#ececec" stroke-width="0.22">67,6036</text>
<text x="1143.0" y="652.7" font-size="13.8" textLength="64.7" lengthAdjust="spacingAndGlyphs" fill="#ececec" stroke="#ececec" stroke-width="0.22">43,6632</text>
<text x="1218.0" y="652.7" font-size="13.8" textLength="64.7" lengthAdjust="spacingAndGlyphs" fill="#ececec" stroke="#ececec" stroke-width="0.22">89,3829</text>
<text x="1319.0" y="652.7" font-size="13.8" textLength="74.9" lengthAdjust="spacingAndGlyphs" fill="#ececec" stroke="#ececec" stroke-width="0.22">184,0505</text>
<text x="1426.0" y="652.7" font-size="13.8" textLength="74.9" lengthAdjust="spacingAndGlyphs" fill="#ececec" stroke="#ececec" stroke-width="0.22">119,5734</text>
<text x="1511.0" y="652.7" font-size="13.8" textLength="64.7" lengthAdjust="spacingAndGlyphs" fill="#ececec" stroke="#ececec" stroke-width="0.22">40,3375</text>
<text x="474.0" y="675.1" font-size="13.8" textLength="54.5" lengthAdjust="spacingAndGlyphs" fill="#ececec" stroke="#ececec" stroke-width="0.22">0,3127</text>
<text x="559.0" y="675.1" font-size="13.8" textLength="54.5" lengthAdjust="spacingAndGlyphs" fill="#ececec" stroke="#ececec" stroke-width="0.22">0,3127</text>
<text x="644.0" y="675.1" font-size="13.8" textLength="54.5" lengthAdjust="spacingAndGlyphs" fill="#ececec" stroke="#ececec" stroke-width="0.22">0,3127</text>
<text x="730.0" y="675.1" font-size="13.8" textLength="54.5" lengthAdjust="spacingAndGlyphs" fill="#ececec" stroke="#ececec" stroke-width="0.22">0,3127</text>
<text x="815.0" y="675.1" font-size="13.8" textLength="54.5" lengthAdjust="spacingAndGlyphs" fill="#ececec" stroke="#ececec" stroke-width="0.22">0,3127</text>
<text x="901.0" y="675.1" font-size="13.8" textLength="54.5" lengthAdjust="spacingAndGlyphs" fill="#ececec" stroke="#ececec" stroke-width="0.22">0,4154</text>
<text x="982.0" y="675.1" font-size="13.8" textLength="54.5" lengthAdjust="spacingAndGlyphs" fill="#ececec" stroke="#ececec" stroke-width="0.22">0,3845</text>
<text x="1068.0" y="675.1" font-size="13.8" textLength="54.5" lengthAdjust="spacingAndGlyphs" fill="#ececec" stroke="#ececec" stroke-width="0.22">0,2442</text>
<text x="1143.0" y="675.1" font-size="13.8" textLength="54.5" lengthAdjust="spacingAndGlyphs" fill="#ececec" stroke="#ececec" stroke-width="0.22">0,3430</text>
<text x="1218.0" y="675.1" font-size="13.8" textLength="54.5" lengthAdjust="spacingAndGlyphs" fill="#ececec" stroke="#ececec" stroke-width="0.22">0,2646</text>
<text x="1319.0" y="675.1" font-size="13.8" textLength="54.5" lengthAdjust="spacingAndGlyphs" fill="#ececec" stroke="#ececec" stroke-width="0.22">0,2593</text>
<text x="1426.0" y="675.1" font-size="13.8" textLength="54.5" lengthAdjust="spacingAndGlyphs" fill="#ececec" stroke="#ececec" stroke-width="0.22">0,5260</text>
<text x="1511.0" y="675.1" font-size="13.8" textLength="54.5" lengthAdjust="spacingAndGlyphs" fill="#ececec" stroke="#ececec" stroke-width="0.22">0,2083</text>
<text x="474.0" y="697.6" font-size="13.8" textLength="54.5" lengthAdjust="spacingAndGlyphs" fill="#ececec" stroke="#ececec" stroke-width="0.22">0,3290</text>
<text x="559.0" y="697.6" font-size="13.8" textLength="54.5" lengthAdjust="spacingAndGlyphs" fill="#ececec" stroke="#ececec" stroke-width="0.22">0,3290</text>
<text x="644.0" y="697.6" font-size="13.8" textLength="54.5" lengthAdjust="spacingAndGlyphs" fill="#ececec" stroke="#ececec" stroke-width="0.22">0,3290</text>
<text x="730.0" y="697.6" font-size="13.8" textLength="54.5" lengthAdjust="spacingAndGlyphs" fill="#ececec" stroke="#ececec" stroke-width="0.22">0,3290</text>
<text x="815.0" y="697.6" font-size="13.8" textLength="54.5" lengthAdjust="spacingAndGlyphs" fill="#ececec" stroke="#ececec" stroke-width="0.22">0,3290</text>
<text x="901.0" y="697.6" font-size="13.8" textLength="54.5" lengthAdjust="spacingAndGlyphs" fill="#ececec" stroke="#ececec" stroke-width="0.22">0,3662</text>
<text x="982.0" y="697.6" font-size="13.8" textLength="54.5" lengthAdjust="spacingAndGlyphs" fill="#ececec" stroke="#ececec" stroke-width="0.22">0,3580</text>
<text x="1068.0" y="697.6" font-size="13.8" textLength="54.5" lengthAdjust="spacingAndGlyphs" fill="#ececec" stroke="#ececec" stroke-width="0.22">0,2593</text>
<text x="1143.0" y="697.6" font-size="13.8" textLength="54.5" lengthAdjust="spacingAndGlyphs" fill="#ececec" stroke="#ececec" stroke-width="0.22">0,4398</text>
<text x="1218.0" y="697.6" font-size="13.8" textLength="54.5" lengthAdjust="spacingAndGlyphs" fill="#ececec" stroke="#ececec" stroke-width="0.22">0,2460</text>
<text x="1319.0" y="697.6" font-size="13.8" textLength="54.5" lengthAdjust="spacingAndGlyphs" fill="#ececec" stroke="#ececec" stroke-width="0.22">0,3624</text>
<text x="1426.0" y="697.6" font-size="13.8" textLength="54.5" lengthAdjust="spacingAndGlyphs" fill="#ececec" stroke="#ececec" stroke-width="0.22">0,4054</text>
<text x="1511.0" y="697.6" font-size="13.8" textLength="54.5" lengthAdjust="spacingAndGlyphs" fill="#ececec" stroke="#ececec" stroke-width="0.22">0,1782</text>
<text x="474.0" y="720.0" font-size="13.8" textLength="74.9" lengthAdjust="spacingAndGlyphs" fill="#ececec" stroke="#ececec" stroke-width="0.22">446,4101</text>
<text x="559.0" y="720.0" font-size="13.8" textLength="74.9" lengthAdjust="spacingAndGlyphs" fill="#ececec" stroke="#ececec" stroke-width="0.22">346,2481</text>
<text x="644.0" y="720.0" font-size="13.8" textLength="74.9" lengthAdjust="spacingAndGlyphs" fill="#ececec" stroke="#ececec" stroke-width="0.22">278,8192</text>
<text x="730.0" y="720.0" font-size="13.8" textLength="74.9" lengthAdjust="spacingAndGlyphs" fill="#ececec" stroke="#ececec" stroke-width="0.22">210,1633</text>
<text x="815.0" y="720.0" font-size="13.8" textLength="74.9" lengthAdjust="spacingAndGlyphs" fill="#ececec" stroke="#ececec" stroke-width="0.22">142,2862</text>
<text x="901.0" y="720.0" font-size="13.8" textLength="64.7" lengthAdjust="spacingAndGlyphs" fill="#ececec" stroke="#ececec" stroke-width="0.22">36,0640</text>
<text x="982.0" y="720.0" font-size="13.8" textLength="74.9" lengthAdjust="spacingAndGlyphs" fill="#ececec" stroke="#ececec" stroke-width="0.22">144,9032</text>
<text x="1068.0" y="720.0" font-size="13.8" textLength="64.7" lengthAdjust="spacingAndGlyphs" fill="#ececec" stroke="#ececec" stroke-width="0.22">73,3286</text>
<text x="1143.0" y="720.0" font-size="13.8" textLength="64.7" lengthAdjust="spacingAndGlyphs" fill="#ececec" stroke="#ececec" stroke-width="0.22">48,8254</text>
<text x="1218.0" y="720.0" font-size="13.8" textLength="64.7" lengthAdjust="spacingAndGlyphs" fill="#ececec" stroke="#ececec" stroke-width="0.22">93,3430</text>
<text x="1319.0" y="720.0" font-size="13.8" textLength="74.9" lengthAdjust="spacingAndGlyphs" fill="#ececec" stroke="#ececec" stroke-width="0.22">176,6210</text>
<text x="1426.0" y="720.0" font-size="13.8" textLength="74.9" lengthAdjust="spacingAndGlyphs" fill="#ececec" stroke="#ececec" stroke-width="0.22">116,7678</text>
<text x="1511.0" y="720.0" font-size="13.8" textLength="64.7" lengthAdjust="spacingAndGlyphs" fill="#ececec" stroke="#ececec" stroke-width="0.22">43,5975</text>
<text x="474.0" y="742.5" font-size="13.8" textLength="54.5" lengthAdjust="spacingAndGlyphs" fill="#ececec" stroke="#ececec" stroke-width="0.22">5,4842</text>
<text x="559.0" y="742.5" font-size="13.8" textLength="54.5" lengthAdjust="spacingAndGlyphs" fill="#ececec" stroke="#ececec" stroke-width="0.22">4,9669</text>
<text x="644.0" y="742.5" font-size="13.8" textLength="54.5" lengthAdjust="spacingAndGlyphs" fill="#ececec" stroke="#ececec" stroke-width="0.22">5,0893</text>
<text x="730.0" y="742.5" font-size="13.8" textLength="54.5" lengthAdjust="spacingAndGlyphs" fill="#ececec" stroke="#ececec" stroke-width="0.22">4,6888</text>
<text x="815.0" y="742.5" font-size="13.8" textLength="54.5" lengthAdjust="spacingAndGlyphs" fill="#ececec" stroke="#ececec" stroke-width="0.22">4,3047</text>
<text x="901.0" y="742.5" font-size="13.8" textLength="54.5" lengthAdjust="spacingAndGlyphs" fill="#ececec" stroke="#ececec" stroke-width="0.22">2,3800</text>
<text x="982.0" y="742.5" font-size="13.8" textLength="54.5" lengthAdjust="spacingAndGlyphs" fill="#ececec" stroke="#ececec" stroke-width="0.22">2,9016</text>
<text x="1068.0" y="742.5" font-size="13.8" textLength="54.5" lengthAdjust="spacingAndGlyphs" fill="#ececec" stroke="#ececec" stroke-width="0.22">2,3803</text>
<text x="1143.0" y="742.5" font-size="13.8" textLength="54.5" lengthAdjust="spacingAndGlyphs" fill="#ececec" stroke="#ececec" stroke-width="0.22">2,3475</text>
<text x="1218.0" y="742.5" font-size="13.8" textLength="54.5" lengthAdjust="spacingAndGlyphs" fill="#ececec" stroke="#ececec" stroke-width="0.22">1,9598</text>
<text x="1319.0" y="742.5" font-size="13.8" textLength="54.5" lengthAdjust="spacingAndGlyphs" fill="#ececec" stroke="#ececec" stroke-width="0.22">1,4555</text>
<text x="1426.0" y="742.5" font-size="13.8" textLength="54.5" lengthAdjust="spacingAndGlyphs" fill="#ececec" stroke="#ececec" stroke-width="0.22">1,7644</text>
<text x="1511.0" y="742.5" font-size="13.8" textLength="54.5" lengthAdjust="spacingAndGlyphs" fill="#ececec" stroke="#ececec" stroke-width="0.22">1,2954</text>
<text x="474.0" y="764.9" font-size="13.8" textLength="54.5" lengthAdjust="spacingAndGlyphs" fill="#ececec" stroke="#ececec" stroke-width="0.22">6,1828</text>
<text x="559.0" y="764.9" font-size="13.8" textLength="54.5" lengthAdjust="spacingAndGlyphs" fill="#ececec" stroke="#ececec" stroke-width="0.22">5,8499</text>
<text x="644.0" y="764.9" font-size="13.8" textLength="54.5" lengthAdjust="spacingAndGlyphs" fill="#ececec" stroke="#ececec" stroke-width="0.22">6,3599</text>
<text x="730.0" y="764.9" font-size="13.8" textLength="54.5" lengthAdjust="spacingAndGlyphs" fill="#ececec" stroke="#ececec" stroke-width="0.22">6,4144</text>
<text x="815.0" y="764.9" font-size="13.8" textLength="54.5" lengthAdjust="spacingAndGlyphs" fill="#ececec" stroke="#ececec" stroke-width="0.22">6,1244</text>
<text x="901.0" y="764.9" font-size="13.8" textLength="64.7" lengthAdjust="spacingAndGlyphs" fill="#ececec" stroke="#ececec" stroke-width="0.22">10,9160</text>
<text x="982.0" y="764.9" font-size="13.8" textLength="54.5" lengthAdjust="spacingAndGlyphs" fill="#ececec" stroke="#ececec" stroke-width="0.22">9,0750</text>
<text x="1068.0" y="764.9" font-size="13.8" textLength="54.5" lengthAdjust="spacingAndGlyphs" fill="#ececec" stroke="#ececec" stroke-width="0.22">6,7659</text>
<text x="1143.0" y="764.9" font-size="13.8" textLength="54.5" lengthAdjust="spacingAndGlyphs" fill="#ececec" stroke="#ececec" stroke-width="0.22">9,3030</text>
<text x="1218.0" y="764.9" font-size="13.8" textLength="54.5" lengthAdjust="spacingAndGlyphs" fill="#ececec" stroke="#ececec" stroke-width="0.22">5,3082</text>
<text x="1319.0" y="764.9" font-size="13.8" textLength="54.5" lengthAdjust="spacingAndGlyphs" fill="#ececec" stroke="#ececec" stroke-width="0.22">4,3814</text>
<text x="1426.0" y="764.9" font-size="13.8" textLength="54.5" lengthAdjust="spacingAndGlyphs" fill="#ececec" stroke="#ececec" stroke-width="0.22">8,9419</text>
<text x="1511.0" y="764.9" font-size="13.8" textLength="54.5" lengthAdjust="spacingAndGlyphs" fill="#ececec" stroke="#ececec" stroke-width="0.22">6,0791</text>
<defs><linearGradient id="rsh" x1="0" x2="1" y1="0" y2="0"><stop offset="0" stop-color="#000" stop-opacity="0"/><stop offset="1" stop-color="#000" stop-opacity=".45"/></linearGradient></defs>
<rect x="1610.0" y="567.0" width="7.0" height="219.0" fill="url(#rsh)"/>
<rect x="313.6" y="771.4" width="1303.4" height="14.5" fill="#555555"/>
<rect x="315" y="772.8" width="15.8" height="12" rx="2.5" fill="#7a7a7a" stroke="#9a9a9a" stroke-width=".8"/>
<path d="M320.6 778.6 L325.6 774.4 L325.6 782.8 Z" fill="#3e3e3e"/>
<rect x="334" y="773" width="388" height="11.4" rx="5.7" fill="#454545"/>
<rect x="1600" y="772.4" width="16.4" height="12.5" rx="2.5" fill="#6a6a6a"/>
<path d="M1612 778.6 L1606.5 774.6 L1606.5 782.6 Z" fill="#3a3a3a"/>
<rect x="311.7" y="786.0" width="1305.3" height="4.0" fill="#2b2b2b"/>
<text x="49.0" y="582.7" font-size="27.5" textLength="227.0" lengthAdjust="spacingAndGlyphs" fill="#f0f0f0" stroke="#f0f0f0" stroke-width="0.45">Avg dE2000: 2,79</text>
<text x="46.0" y="622.2" font-size="27.5" textLength="235.0" lengthAdjust="spacingAndGlyphs" fill="#f0f0f0" stroke="#f0f0f0" stroke-width="0.45">Max dE2000: 5,48</text>
<text x="14.5" y="668.7" font-size="26.8" textLength="214.0" lengthAdjust="spacingAndGlyphs" fill="#f0f0f0" stroke="#f0f0f0" stroke-width="0.45">Current Reading</text>
<text x="14.5" y="703.7" font-size="23.4" textLength="100.0" lengthAdjust="spacingAndGlyphs" fill="#f0f0f0" stroke="#f0f0f0" stroke-width="0.45">x: 0,4445</text>
<text x="165.5" y="703.7" font-size="23.4" textLength="101.0" lengthAdjust="spacingAndGlyphs" fill="#f0f0f0" stroke="#f0f0f0" stroke-width="0.45">y: 0,3903</text>
<text x="14.5" y="742.5" font-size="22.8" textLength="94.5" lengthAdjust="spacingAndGlyphs" fill="#f0f0f0" stroke="#f0f0f0" stroke-width="0.45">fL: 42,89</text>
<text x="14.5" y="775.9" font-size="23.4" textLength="155.5" lengthAdjust="spacingAndGlyphs" fill="#f0f0f0" stroke="#f0f0f0" stroke-width="0.45">cd/m²: 146,94</text>
</svg></body></html>
